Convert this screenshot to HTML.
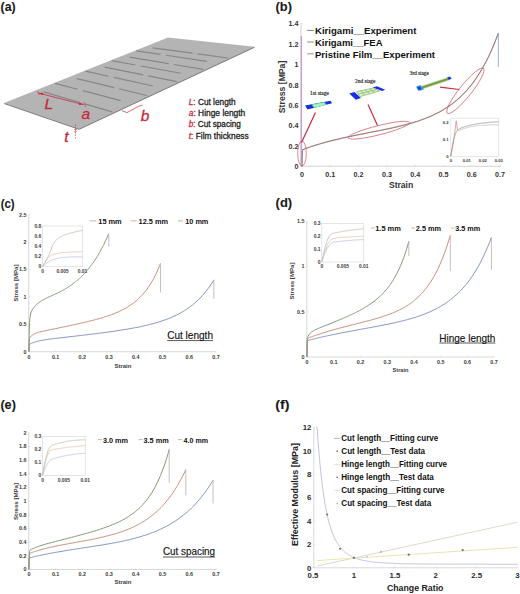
<!DOCTYPE html>
<html><head><meta charset="utf-8"><style>
html,body{margin:0;padding:0;background:#fff;}
body{width:520px;height:594px;overflow:hidden;}
svg{display:block;font-family:"Liberation Sans", sans-serif;}
</style></head><body>
<svg width="520" height="594" viewBox="0 0 520 594">
<rect width="520" height="594" fill="#fff"/>
<text x="0.60" y="10.60" font-size="12.7" fill="#1a1a1a" font-weight="bold" textLength="15.00" lengthAdjust="spacingAndGlyphs" stroke="#1a1a1a" stroke-width="0.1">(a)</text>
<polygon points="4.00,103.00 79.00,128.80 254.50,46.80 168.00,37.60" fill="#b4b4b4"/>
<polyline points="4.3,103.6 79.0,129.3 254.3,47.3" fill="none" stroke="#7c7c7c" stroke-width="1.1" stroke-linejoin="round"/>
<line x1="43.76" y1="91.94" x2="80.09" y2="102.51" stroke="#878787" stroke-width="1.2"/>
<line x1="84.73" y1="103.86" x2="112.17" y2="111.84" stroke="#878787" stroke-width="1.2"/>
<line x1="76.76" y1="78.56" x2="114.18" y2="87.57" stroke="#878787" stroke-width="1.2"/>
<line x1="118.95" y1="88.72" x2="147.21" y2="95.52" stroke="#878787" stroke-width="1.2"/>
<line x1="104.82" y1="67.19" x2="143.15" y2="74.87" stroke="#878787" stroke-width="1.2"/>
<line x1="148.04" y1="75.85" x2="177.00" y2="81.65" stroke="#878787" stroke-width="1.2"/>
<line x1="129.58" y1="57.16" x2="168.72" y2="63.67" stroke="#878787" stroke-width="1.2"/>
<line x1="173.71" y1="64.50" x2="203.28" y2="69.41" stroke="#878787" stroke-width="1.2"/>
<line x1="152.68" y1="47.79" x2="192.58" y2="53.21" stroke="#878787" stroke-width="1.2"/>
<line x1="197.67" y1="53.90" x2="227.81" y2="57.99" stroke="#878787" stroke-width="1.2"/>
<line x1="54.96" y1="83.30" x2="77.57" y2="89.27" stroke="#878787" stroke-width="1.2"/>
<line x1="82.83" y1="90.66" x2="120.75" y2="100.68" stroke="#878787" stroke-width="1.2"/>
<line x1="85.33" y1="71.17" x2="108.55" y2="76.25" stroke="#878787" stroke-width="1.2"/>
<line x1="113.95" y1="77.44" x2="152.90" y2="85.97" stroke="#878787" stroke-width="1.2"/>
<line x1="111.59" y1="60.67" x2="135.34" y2="64.99" stroke="#878787" stroke-width="1.2"/>
<line x1="140.87" y1="66.00" x2="180.70" y2="73.25" stroke="#878787" stroke-width="1.2"/>
<line x1="136.21" y1="50.83" x2="160.46" y2="54.44" stroke="#878787" stroke-width="1.2"/>
<line x1="166.10" y1="55.27" x2="206.77" y2="61.32" stroke="#878787" stroke-width="1.2"/>
<line x1="38.50" y1="93.10" x2="83.50" y2="104.60" stroke="#c8283c" stroke-width="0.8"/>
<polygon points="83.50,104.60 79.40,102.50 78.70,105.00" fill="#c8283c"/>
<polygon points="38.50,93.10 42.60,95.20 43.30,92.70" fill="#c8283c"/>
<line x1="37.60" y1="91.00" x2="39.20" y2="95.00" stroke="#c8283c" stroke-width="0.6"/>
<line x1="83.80" y1="102.20" x2="85.60" y2="107.00" stroke="#c8283c" stroke-width="0.6"/>
<text x="44.60" y="109.20" font-size="15.5" fill="#c8283c" font-style="italic" stroke="#c8283c" stroke-width="0.3">L</text>
<text x="81.50" y="119.20" font-size="15.5" fill="#c8283c" font-style="italic" stroke="#c8283c" stroke-width="0.3">a</text>
<polyline points="122.0,110.8 127.0,112.6 138.5,106.3 142.5,105.2" fill="none" stroke="#c8283c" stroke-width="0.7" stroke-linejoin="round"/>
<text x="140.80" y="120.60" font-size="15.5" fill="#c8283c" font-style="italic" stroke="#c8283c" stroke-width="0.3">b</text>
<line x1="75.50" y1="124.50" x2="75.50" y2="139.50" stroke="#c8283c" stroke-width="0.6" stroke-dasharray="1.5,1"/>
<line x1="74.00" y1="129.50" x2="77.00" y2="129.50" stroke="#c8283c" stroke-width="0.5"/>
<line x1="74.00" y1="131.50" x2="77.00" y2="131.50" stroke="#c8283c" stroke-width="0.5"/>
<text x="64.20" y="141.50" font-size="15.5" fill="#c8283c" font-style="italic" stroke="#c8283c" stroke-width="0.3">t</text>
<text x="188.7" y="104.7" font-size="8.8" fill="#222" stroke="#222" stroke-width="0.3" textLength="47.0" lengthAdjust="spacingAndGlyphs"><tspan fill="#c8283c" stroke="#c8283c" font-style="italic">L</tspan><tspan fill="#c8283c" stroke="#c8283c">:</tspan> Cut length</text>
<text x="188.7" y="116.2" font-size="8.8" fill="#222" stroke="#222" stroke-width="0.3" textLength="56.6" lengthAdjust="spacingAndGlyphs"><tspan fill="#c8283c" stroke="#c8283c" font-style="italic">a</tspan><tspan fill="#c8283c" stroke="#c8283c">:</tspan> Hinge length</text>
<text x="188.7" y="127.0" font-size="8.8" fill="#222" stroke="#222" stroke-width="0.3" textLength="52.2" lengthAdjust="spacingAndGlyphs"><tspan fill="#c8283c" stroke="#c8283c" font-style="italic">b</tspan><tspan fill="#c8283c" stroke="#c8283c">:</tspan> Cut spacing</text>
<text x="188.7" y="138.5" font-size="8.8" fill="#222" stroke="#222" stroke-width="0.3" textLength="60.0" lengthAdjust="spacingAndGlyphs"><tspan fill="#c8283c" stroke="#c8283c" font-style="italic">t</tspan><tspan fill="#c8283c" stroke="#c8283c">:</tspan> Film thickness</text>
<text x="275.60" y="10.90" font-size="12.7" fill="#1a1a1a" font-weight="bold" textLength="16.40" lengthAdjust="spacingAndGlyphs" stroke="#1a1a1a" stroke-width="0.1">(b)</text>
<line x1="301.00" y1="23.50" x2="301.00" y2="166.30" stroke="#c8c8c8" stroke-width="0.8"/>
<line x1="301.00" y1="166.30" x2="501.00" y2="166.30" stroke="#c8c8c8" stroke-width="0.8"/>
<text x="298.60" y="169.10" font-size="7.2" fill="#333" font-weight="bold" text-anchor="end">0</text>
<line x1="301.00" y1="166.50" x2="302.50" y2="166.50" stroke="#c8c8c8" stroke-width="0.6"/>
<text x="298.60" y="148.70" font-size="7.2" fill="#333" font-weight="bold" text-anchor="end">0.2</text>
<line x1="301.00" y1="146.10" x2="302.50" y2="146.10" stroke="#c8c8c8" stroke-width="0.6"/>
<text x="298.60" y="128.30" font-size="7.2" fill="#333" font-weight="bold" text-anchor="end">0.4</text>
<line x1="301.00" y1="125.70" x2="302.50" y2="125.70" stroke="#c8c8c8" stroke-width="0.6"/>
<text x="298.60" y="107.90" font-size="7.2" fill="#333" font-weight="bold" text-anchor="end">0.6</text>
<line x1="301.00" y1="105.30" x2="302.50" y2="105.30" stroke="#c8c8c8" stroke-width="0.6"/>
<text x="298.60" y="87.50" font-size="7.2" fill="#333" font-weight="bold" text-anchor="end">0.8</text>
<line x1="301.00" y1="84.90" x2="302.50" y2="84.90" stroke="#c8c8c8" stroke-width="0.6"/>
<text x="298.60" y="67.10" font-size="7.2" fill="#333" font-weight="bold" text-anchor="end">1</text>
<line x1="301.00" y1="64.50" x2="302.50" y2="64.50" stroke="#c8c8c8" stroke-width="0.6"/>
<text x="298.60" y="46.70" font-size="7.2" fill="#333" font-weight="bold" text-anchor="end">1.2</text>
<line x1="301.00" y1="44.10" x2="302.50" y2="44.10" stroke="#c8c8c8" stroke-width="0.6"/>
<text x="298.60" y="26.30" font-size="7.2" fill="#333" font-weight="bold" text-anchor="end">1.4</text>
<line x1="301.00" y1="23.70" x2="302.50" y2="23.70" stroke="#c8c8c8" stroke-width="0.6"/>
<text x="302.00" y="177.00" font-size="7.2" fill="#333" font-weight="bold" text-anchor="middle">0</text>
<line x1="302.00" y1="166.30" x2="302.00" y2="164.80" stroke="#c8c8c8" stroke-width="0.6"/>
<text x="330.30" y="177.00" font-size="7.2" fill="#333" font-weight="bold" text-anchor="middle">0.1</text>
<line x1="330.30" y1="166.30" x2="330.30" y2="164.80" stroke="#c8c8c8" stroke-width="0.6"/>
<text x="358.60" y="177.00" font-size="7.2" fill="#333" font-weight="bold" text-anchor="middle">0.2</text>
<line x1="358.60" y1="166.30" x2="358.60" y2="164.80" stroke="#c8c8c8" stroke-width="0.6"/>
<text x="386.90" y="177.00" font-size="7.2" fill="#333" font-weight="bold" text-anchor="middle">0.3</text>
<line x1="386.90" y1="166.30" x2="386.90" y2="164.80" stroke="#c8c8c8" stroke-width="0.6"/>
<text x="415.20" y="177.00" font-size="7.2" fill="#333" font-weight="bold" text-anchor="middle">0.4</text>
<line x1="415.20" y1="166.30" x2="415.20" y2="164.80" stroke="#c8c8c8" stroke-width="0.6"/>
<text x="443.50" y="177.00" font-size="7.2" fill="#333" font-weight="bold" text-anchor="middle">0.5</text>
<line x1="443.50" y1="166.30" x2="443.50" y2="164.80" stroke="#c8c8c8" stroke-width="0.6"/>
<text x="471.80" y="177.00" font-size="7.2" fill="#333" font-weight="bold" text-anchor="middle">0.6</text>
<line x1="471.80" y1="166.30" x2="471.80" y2="164.80" stroke="#c8c8c8" stroke-width="0.6"/>
<text x="500.10" y="177.00" font-size="7.2" fill="#333" font-weight="bold" text-anchor="middle">0.7</text>
<line x1="500.10" y1="166.30" x2="500.10" y2="164.80" stroke="#c8c8c8" stroke-width="0.6"/>
<text x="401.10" y="187.60" font-size="8.7" fill="#333" font-weight="bold" text-anchor="middle" textLength="24.30" lengthAdjust="spacingAndGlyphs">Strain</text>
<text x="284.60" y="86.90" font-size="8.7" fill="#333" font-weight="bold" text-anchor="middle" textLength="52.50" lengthAdjust="spacingAndGlyphs" transform="rotate(-90 284.60 86.90)">Stress [MPa]</text>
<line x1="301.30" y1="36.00" x2="301.30" y2="166.30" stroke="#c894d8" stroke-width="1.2"/>
<polyline points="302.0,166.5 302.1,157.3 302.3,153.1 302.4,151.2 302.6,150.3 302.7,149.9 302.8,149.6 303.0,149.5 303.1,149.4 304.0,149.1 304.8,148.8 305.7,148.5 306.5,148.1 307.4,147.9 308.2,147.6 309.1,147.3 309.9,147.0 310.8,146.7 311.6,146.4 312.5,146.1 313.3,145.9 315.4,145.2 317.5,144.6 319.6,144.0 321.6,143.4 323.7,142.8 325.8,142.2 327.9,141.6 330.0,141.1 332.0,140.6 334.1,140.1 336.2,139.6 338.3,139.1 340.4,138.6 342.4,138.1 344.5,137.6 346.6,137.2 348.7,136.7 350.8,136.3 352.8,135.9 354.9,135.4 357.0,135.0 359.1,134.6 361.2,134.2 363.2,133.8 365.3,133.3 367.4,132.9 369.5,132.5 371.5,132.1 373.6,131.7 375.7,131.3 377.8,130.9 379.9,130.5 381.9,130.1 384.0,129.6 386.1,129.2 388.2,128.8 390.3,128.3 392.3,127.9 394.4,127.4 396.5,126.9 398.6,126.4 400.7,125.9 402.7,125.4 404.8,124.9 406.9,124.3 409.0,123.8 411.1,123.2 413.1,122.6 415.2,121.9 417.3,121.3 419.4,120.6 421.5,119.8 423.5,119.1 425.6,118.3 427.7,117.5 429.8,116.6 431.9,115.7 433.9,114.7 436.0,113.7 438.1,112.7 440.2,111.5 442.3,110.4 444.3,109.1 446.4,107.8 448.5,106.4 450.6,105.0 452.7,103.4 454.7,101.8 456.8,100.1 458.9,98.2 461.0,96.3 463.0,94.3 465.1,92.1 467.2,89.8 469.3,87.4 471.4,84.8 473.4,82.1 475.5,79.2 477.6,76.1 479.7,72.9 481.8,69.4 483.8,65.8 485.9,61.9 488.0,57.8 490.1,53.4 492.2,48.7 494.2,43.8 496.3,38.6 498.4,33.0" fill="none" stroke="#e4b0b0" stroke-width="1.2" stroke-linejoin="round"/>
<polyline points="302.0,166.5 302.1,157.3 302.3,153.1 302.4,151.2 302.6,150.3 302.7,149.9 302.8,149.6 303.0,149.5 303.1,149.4 304.0,149.1 304.8,148.8 305.7,148.5 306.5,148.1 307.4,147.9 308.2,147.6 309.1,147.3 309.9,147.0 310.8,146.7 311.6,146.4 312.5,146.1 313.3,145.9 315.4,145.2 317.5,144.6 319.6,144.0 321.6,143.4 323.7,142.8 325.8,142.2 327.9,141.6 330.0,141.1 332.0,140.6 334.1,140.1 336.2,139.6 338.3,139.1 340.4,138.6 342.4,138.1 344.5,137.6 346.6,137.2 348.7,136.7 350.8,136.3 352.8,135.9 354.9,135.4 357.0,135.0 359.1,134.6 361.2,134.2 363.2,133.8 365.3,133.3 367.4,132.9 369.5,132.5 371.5,132.1 373.6,131.7 375.7,131.3 377.8,130.9 379.9,130.5 381.9,130.1 384.0,129.6 386.1,129.2 388.2,128.8 390.3,128.3 392.3,127.9 394.4,127.4 396.5,126.9 398.6,126.4 400.7,125.9 402.7,125.4 404.8,124.9 406.9,124.3 409.0,123.8 411.1,123.2 413.1,122.6 415.2,121.9 417.3,121.3 419.4,120.6 421.5,119.8 423.5,119.1 425.6,118.3 427.7,117.5 429.8,116.6 431.9,115.7 433.9,114.7 436.0,113.7 438.1,112.7 440.2,111.5 442.3,110.4 444.3,109.1 446.4,107.8 448.5,106.4 450.6,105.0 452.7,103.4 454.7,101.8 456.8,100.1 458.9,98.2 461.0,96.3 463.0,94.3 465.1,92.1 467.2,89.8 469.3,87.4 471.4,84.8 473.4,82.1 475.5,79.2 477.6,76.1 479.7,72.9 481.8,69.4 483.8,65.8 485.9,61.9 488.0,57.8 490.1,53.4 492.2,48.7 494.2,43.8 496.3,38.6 498.4,33.0" fill="none" stroke="#6e6666" stroke-width="0.7" stroke-linejoin="round"/>
<line x1="498.40" y1="32.98" x2="498.40" y2="67.05" stroke="#88aee0" stroke-width="0.9"/>
<ellipse cx="302" cy="153.5" rx="4.3" ry="12.5" fill="none" stroke="#d05a64" stroke-width="0.7"/>
<ellipse cx="378.8" cy="130.2" rx="31.7" ry="4.6" fill="none" stroke="#d05a64" stroke-width="0.7" transform="rotate(-14.1 378.8 130.2)"/>
<ellipse cx="465.4" cy="90.8" rx="28.8" ry="6.0" fill="none" stroke="#d05a64" stroke-width="0.7" transform="rotate(-51.3 465.4 90.8)"/>
<line x1="315.50" y1="112.50" x2="301.50" y2="142.50" stroke="#c82c40" stroke-width="1.2"/>
<line x1="368.00" y1="104.50" x2="377.50" y2="125.50" stroke="#c82c40" stroke-width="1.2"/>
<line x1="440.00" y1="87.20" x2="459.20" y2="89.50" stroke="#c82c40" stroke-width="1.2"/>
<polygon points="305.00,105.60 330.50,100.80 332.00,103.30 307.50,109.40" fill="#1530d8"/>
<polygon points="311.50,104.40 324.50,101.90 326.50,104.80 314.00,108.10" fill="#7ee0a8"/>
<polygon points="313.00,104.90 323.00,103.00 324.50,104.90 315.00,106.90" fill="#a8f0c0"/>
<text x="319.40" y="94.90" font-size="5.6" fill="#2a2a2a" text-anchor="middle" textLength="18.80" lengthAdjust="spacingAndGlyphs" font-family="Liberation Serif" stroke="#2a2a2a" stroke-width="0.2">1st stage</text>
<polygon points="349.30,93.60 354.50,91.90 361.00,97.90 355.80,99.70" fill="#1a2ee0"/>
<polygon points="372.70,87.50 377.00,86.20 385.20,89.70 382.20,91.00" fill="#1a2ee0"/>
<polygon points="356.50,91.60 373.50,88.00 379.60,91.00 360.10,96.60" fill="#d8f0c8"/>
<line x1="356.50" y1="91.60" x2="360.10" y2="96.60" stroke="#70a860" stroke-width="0.6"/>
<line x1="360.75" y1="90.70" x2="364.98" y2="95.20" stroke="#70a860" stroke-width="0.6"/>
<line x1="365.00" y1="89.80" x2="369.85" y2="93.80" stroke="#70a860" stroke-width="0.6"/>
<line x1="369.25" y1="88.90" x2="374.73" y2="92.40" stroke="#70a860" stroke-width="0.6"/>
<line x1="373.50" y1="88.00" x2="379.60" y2="91.00" stroke="#70a860" stroke-width="0.6"/>
<line x1="356.50" y1="91.60" x2="373.50" y2="88.00" stroke="#70a860" stroke-width="0.6"/>
<line x1="358.30" y1="94.10" x2="376.50" y2="89.50" stroke="#70a860" stroke-width="0.6"/>
<line x1="360.10" y1="96.60" x2="379.60" y2="91.00" stroke="#70a860" stroke-width="0.6"/>
<text x="365.20" y="82.90" font-size="5.6" fill="#2a2a2a" text-anchor="middle" textLength="20.30" lengthAdjust="spacingAndGlyphs" font-family="Liberation Serif" stroke="#2a2a2a" stroke-width="0.2">2nd stage</text>
<line x1="420.00" y1="88.20" x2="449.00" y2="78.60" stroke="#b8e0a0" stroke-width="3.6"/>
<line x1="420.00" y1="88.20" x2="449.00" y2="78.60" stroke="#7e9448" stroke-width="2.0"/>
<polygon points="416.10,86.40 420.50,85.10 424.00,89.60 418.50,90.90" fill="#3aa0e0"/>
<polygon points="416.80,87.40 419.80,86.60 421.50,89.20 418.80,90.00" fill="#1a40d0"/>
<polygon points="447.30,77.30 450.20,76.60 451.60,79.10 448.60,79.80" fill="#1a40d0"/>
<text x="419.30" y="75.40" font-size="5.6" fill="#2a2a2a" text-anchor="middle" textLength="19.00" lengthAdjust="spacingAndGlyphs" font-family="Liberation Serif" stroke="#2a2a2a" stroke-width="0.2">3rd stage</text>
<line x1="307.20" y1="30.40" x2="313.80" y2="30.40" stroke="#707070" stroke-width="0.9"/>
<text x="315.00" y="34.20" font-size="8.5" fill="#111" font-weight="bold" textLength="101.40" lengthAdjust="spacingAndGlyphs">Kirigami__Experiment</text>
<line x1="307.20" y1="42.00" x2="313.80" y2="42.00" stroke="#a07070" stroke-width="0.9"/>
<text x="315.00" y="45.80" font-size="8.5" fill="#111" font-weight="bold" textLength="67.50" lengthAdjust="spacingAndGlyphs">Kirigami__FEA</text>
<line x1="307.20" y1="53.80" x2="313.80" y2="53.80" stroke="#9080b0" stroke-width="0.9"/>
<text x="315.00" y="57.60" font-size="8.5" fill="#111" font-weight="bold" textLength="120.00" lengthAdjust="spacingAndGlyphs">Pristine Film__Experiment</text>
<rect x="450.8" y="118.2" width="48" height="38.2" fill="#fff" stroke="#d8d8d8" stroke-width="0.6"/>
<text x="448.50" y="157.90" font-size="4.2" fill="#333" font-weight="bold" text-anchor="end">0</text>
<text x="448.50" y="140.90" font-size="4.2" fill="#333" font-weight="bold" text-anchor="end">0.1</text>
<text x="448.50" y="123.90" font-size="4.2" fill="#333" font-weight="bold" text-anchor="end">0.2</text>
<text x="450.80" y="162.00" font-size="4.2" fill="#333" font-weight="bold" text-anchor="middle">0</text>
<text x="466.80" y="162.00" font-size="4.2" fill="#333" font-weight="bold" text-anchor="middle">0.01</text>
<text x="482.80" y="162.00" font-size="4.2" fill="#333" font-weight="bold" text-anchor="middle">0.02</text>
<text x="498.80" y="162.00" font-size="4.2" fill="#333" font-weight="bold" text-anchor="middle">0.03</text>
<polyline points="450.8,156.4 451.1,154.4 451.4,152.5 451.7,150.6 452.0,148.9 452.3,147.2 452.6,145.6 452.9,144.0 453.2,142.6 453.5,141.2 453.7,139.9 454.0,138.7 454.3,137.5 454.6,136.5 454.9,135.5 455.2,134.6 455.5,133.8 455.8,133.0 456.1,132.3 456.4,131.8 456.5,131.5 456.7,131.3 456.8,131.0 457.0,130.8 457.1,130.6 457.3,130.5 457.4,130.3 457.5,130.2 457.7,130.1 457.8,130.0 458.0,129.9 458.1,129.8 458.2,129.7 458.4,129.6 458.5,129.5 458.7,129.4 458.8,129.3 459.0,129.2 459.1,129.1 459.2,129.0 459.4,129.0 459.5,128.9 459.7,128.8 459.8,128.7 459.9,128.6 460.1,128.6 460.2,128.5 460.4,128.4 460.5,128.3 460.7,128.3 460.8,128.2 460.9,128.1 461.1,128.1 461.2,128.0 461.4,127.9 461.5,127.9 461.6,127.8 461.8,127.8 461.9,127.7 462.1,127.7 462.2,127.6 462.4,127.5 462.5,127.5 462.6,127.4 462.8,127.4 462.9,127.3 463.1,127.3 463.2,127.2 463.3,127.2 463.5,127.1 463.6,127.1 463.8,127.0 463.9,127.0 464.1,126.9 464.2,126.9 464.3,126.9 464.5,126.8 464.6,126.8 464.8,126.7 464.9,126.7 465.1,126.6 465.2,126.6 465.3,126.6 465.5,126.5 465.6,126.5 465.8,126.4 465.9,126.4 466.0,126.4 466.2,126.3 466.3,126.3 466.5,126.2 466.6,126.2 466.8,126.2 466.9,126.1 467.0,126.1 467.2,126.0 467.3,126.0 467.5,126.0 467.6,125.9 467.7,125.9 467.9,125.8 468.0,125.8 468.2,125.8 468.3,125.7 468.5,125.7 468.6,125.7 468.7,125.6 468.9,125.6 469.0,125.5 469.2,125.5 469.3,125.5 469.4,125.4 469.6,125.4 469.7,125.4 469.9,125.3 470.0,125.3 470.2,125.3 470.3,125.2 470.4,125.2 470.6,125.2 470.7,125.1 470.9,125.1 471.0,125.1 471.1,125.0 471.3,125.0 471.4,125.0 471.6,124.9 471.7,124.9 471.9,124.9 472.0,124.9 472.1,124.8 472.3,124.8 472.4,124.8 472.6,124.7 472.7,124.7 472.8,124.7 473.0,124.6 473.1,124.6 473.3,124.6 473.4,124.6 473.6,124.5 473.7,124.5 473.8,124.5 474.0,124.4 474.1,124.4 474.3,124.4 474.4,124.4 474.6,124.3 474.7,124.3 474.8,124.3 475.0,124.3 475.1,124.2 475.3,124.2 475.4,124.2 475.5,124.2 475.7,124.1 475.8,124.1 476.0,124.1 476.1,124.1 476.3,124.0 476.4,124.0 476.5,124.0 476.7,124.0 476.8,123.9 477.0,123.9 477.1,123.9 477.2,123.9 477.4,123.9 477.5,123.8 477.7,123.8 477.8,123.8 478.0,123.8 478.1,123.7 478.2,123.7 478.4,123.7 478.5,123.7 478.7,123.7 478.8,123.6 478.9,123.6 479.1,123.6 479.2,123.6 479.4,123.6 479.5,123.5 479.7,123.5 479.8,123.5 479.9,123.5 480.1,123.5 480.2,123.4 480.4,123.4 480.5,123.4 480.6,123.4 480.8,123.4 480.9,123.4 481.1,123.3 481.2,123.3 481.4,123.3 481.5,123.3 481.6,123.3 481.8,123.2 481.9,123.2 482.1,123.2 482.2,123.2 482.4,123.2 482.5,123.2 482.6,123.1 482.8,123.1 482.9,123.1 483.1,123.1 483.2,123.1 483.3,123.0 483.5,123.0 483.6,123.0 483.8,123.0 483.9,123.0 484.1,123.0 484.2,122.9 484.3,122.9 484.5,122.9 484.6,122.9 484.8,122.9 484.9,122.9 485.0,122.8 485.2,122.8 485.3,122.8 485.5,122.8 485.6,122.8 485.8,122.8 485.9,122.7 486.0,122.7 486.2,122.7 486.3,122.7 486.5,122.7 486.6,122.7 486.7,122.6 486.9,122.6 487.0,122.6 487.2,122.6 487.3,122.6 487.5,122.6 487.6,122.6 487.7,122.5 487.9,122.5 488.0,122.5 488.2,122.5 488.3,122.5 488.4,122.5 488.6,122.4 488.7,122.4 488.9,122.4 489.0,122.4 489.2,122.4 489.3,122.4 489.4,122.4 489.6,122.3 489.7,122.3 489.9,122.3 490.0,122.3 490.1,122.3 490.3,122.3 490.4,122.3 490.6,122.3 490.7,122.2 490.9,122.2 491.0,122.2 491.1,122.2 491.3,122.2 491.4,122.2 491.6,122.2 491.7,122.1 491.9,122.1 492.0,122.1 492.1,122.1 492.3,122.1 492.4,122.1 492.6,122.1 492.7,122.1 492.8,122.1 493.0,122.0 493.1,122.0 493.3,122.0 493.4,122.0 493.6,122.0 493.7,122.0 493.8,122.0 494.0,122.0 494.1,122.0 494.3,121.9 494.4,121.9 494.5,121.9 494.7,121.9 494.8,121.9 495.0,121.9 495.1,121.9 495.3,121.9 495.4,121.9 495.5,121.9 495.7,121.9 495.8,121.9 496.0,121.8 496.1,121.8 496.2,121.8 496.4,121.8 496.5,121.8 496.7,121.8 496.8,121.8 497.0,121.8 497.1,121.8 497.2,121.8 497.4,121.8 497.5,121.8 497.7,121.8 497.8,121.8 497.9,121.7 498.1,121.7 498.2,121.7 498.4,121.7 498.5,121.7 498.7,121.7 498.8,121.7" fill="none" stroke="#8a8a8a" stroke-width="0.7" stroke-linejoin="round"/>
<polyline points="457.5,130.9 458.0,130.7 458.5,130.5 459.0,130.3 459.5,130.1 460.0,130.0 460.5,129.8 460.9,129.6 461.4,129.4 461.9,129.3 462.4,129.1 462.9,128.9 463.4,128.8 463.9,128.6 464.4,128.5 464.8,128.3 465.3,128.2 465.8,128.1 466.3,128.0 466.8,127.8 466.9,127.8 467.0,127.8 467.1,127.8 467.2,127.7 467.3,127.7 467.4,127.7 467.5,127.7 467.7,127.6 467.8,127.6 467.9,127.6 468.0,127.6 468.1,127.5 468.2,127.5 468.3,127.5 468.4,127.5 468.5,127.4 468.6,127.4 468.7,127.4 468.8,127.4 468.9,127.3 469.0,127.3 469.2,127.3 469.3,127.3 469.4,127.2 469.5,127.2 469.6,127.2 469.7,127.2 469.8,127.2 469.9,127.1 470.0,127.1 470.1,127.1 470.2,127.1 470.3,127.0 470.4,127.0 470.5,127.0 470.7,127.0 470.8,126.9 470.9,126.9 471.0,126.9 471.1,126.9 471.2,126.8 471.3,126.8 471.4,126.8 471.5,126.8 471.6,126.8 471.7,126.7 471.8,126.7 471.9,126.7 472.0,126.7 472.2,126.6 472.3,126.6 472.4,126.6 472.5,126.6 472.6,126.6 472.7,126.5 472.8,126.5 472.9,126.5 473.0,126.5 473.1,126.5 473.2,126.4 473.3,126.4 473.4,126.4 473.5,126.4 473.6,126.4 473.8,126.3 473.9,126.3 474.0,126.3 474.1,126.3 474.2,126.3 474.3,126.2 474.4,126.2 474.5,126.2 474.6,126.2 474.7,126.2 474.8,126.1 474.9,126.1 475.0,126.1 475.1,126.1 475.3,126.1 475.4,126.0 475.5,126.0 475.6,126.0 475.7,126.0 475.8,126.0 475.9,126.0 476.0,125.9 476.1,125.9 476.2,125.9 476.3,125.9 476.4,125.9 476.5,125.9 476.6,125.9 476.8,125.8 476.9,125.8 477.0,125.8 477.1,125.8 477.2,125.8 477.3,125.8 477.4,125.8 477.5,125.7 477.6,125.7 477.7,125.7 477.8,125.7 477.9,125.7 478.0,125.7 478.1,125.7 478.3,125.6 478.4,125.6 478.5,125.6 478.6,125.6 478.7,125.6 478.8,125.6 478.9,125.6 479.0,125.6 479.1,125.6 479.2,125.6 479.3,125.5 479.4,125.5 479.5,125.5 479.6,125.5 479.7,125.5 479.9,125.5 480.0,125.5 480.1,125.5 480.2,125.5 480.3,125.5 480.4,125.5 480.5,125.5 480.6,125.4 480.7,125.4 480.8,125.4 480.9,125.4 481.0,125.4 481.1,125.4 481.2,125.4 481.4,125.4 481.5,125.4 481.6,125.4 481.7,125.4 481.8,125.4 481.9,125.4 482.0,125.4 482.1,125.4 482.2,125.3 482.3,125.3 482.4,125.3 482.5,125.3 482.6,125.3 482.7,125.3 482.9,125.3 483.0,125.3 483.1,125.3 483.2,125.3 483.3,125.3 483.4,125.3 483.5,125.3 483.6,125.3 483.7,125.3 483.8,125.3 483.9,125.2 484.0,125.2 484.1,125.2 484.2,125.2 484.4,125.2 484.5,125.2 484.6,125.2 484.7,125.2 484.8,125.2 484.9,125.2 485.0,125.2 485.1,125.2 485.2,125.2 485.3,125.2 485.4,125.2 485.5,125.2 485.6,125.2 485.7,125.2 485.9,125.1 486.0,125.1 486.1,125.1 486.2,125.1 486.3,125.1 486.4,125.1 486.5,125.1 486.6,125.1 486.7,125.1 486.8,125.1 486.9,125.1 487.0,125.1 487.1,125.1 487.2,125.1 487.3,125.1 487.5,125.1 487.6,125.1 487.7,125.1 487.8,125.1 487.9,125.0 488.0,125.0 488.1,125.0 488.2,125.0 488.3,125.0 488.4,125.0 488.5,125.0 488.6,125.0 488.7,125.0 488.8,125.0 489.0,125.0 489.1,125.0 489.2,125.0 489.3,125.0 489.4,125.0 489.5,125.0 489.6,125.0 489.7,125.0 489.8,125.0 489.9,125.0 490.0,125.0 490.1,125.0 490.2,125.0 490.3,124.9 490.5,124.9 490.6,124.9 490.7,124.9 490.8,124.9 490.9,124.9 491.0,124.9 491.1,124.9 491.2,124.9 491.3,124.9 491.4,124.9 491.5,124.9 491.6,124.9 491.7,124.9 491.8,124.9 492.0,124.9 492.1,124.9 492.2,124.9 492.3,124.9 492.4,124.9 492.5,124.9 492.6,124.9 492.7,124.9 492.8,124.9 492.9,124.9 493.0,124.9 493.1,124.9 493.2,124.9 493.3,124.9 493.4,124.8 493.6,124.8 493.7,124.8 493.8,124.8 493.9,124.8 494.0,124.8 494.1,124.8 494.2,124.8 494.3,124.8 494.4,124.8 494.5,124.8 494.6,124.8 494.7,124.8 494.8,124.8 494.9,124.8 495.1,124.8 495.2,124.8 495.3,124.8 495.4,124.8 495.5,124.8 495.6,124.8 495.7,124.8 495.8,124.8 495.9,124.8 496.0,124.8 496.1,124.8 496.2,124.8 496.3,124.8 496.4,124.8 496.6,124.8 496.7,124.8 496.8,124.8 496.9,124.8 497.0,124.8 497.1,124.8 497.2,124.8 497.3,124.8 497.4,124.8 497.5,124.8 497.6,124.8 497.7,124.8 497.8,124.8 497.9,124.8 498.1,124.8 498.2,124.8 498.3,124.8 498.4,124.8 498.5,124.8 498.6,124.8 498.7,124.8 498.8,124.8" fill="none" stroke="#b0b0b0" stroke-width="0.6" stroke-linejoin="round"/>
<polyline points="450.8,156.4 454.3,136.0 456.2,120.7 457.5,130.1" fill="none" stroke="#d08080" stroke-width="0.7" stroke-linejoin="round"/>
<text x="0.70" y="207.50" font-size="12.7" fill="#1a1a1a" font-weight="bold" textLength="14.00" lengthAdjust="spacingAndGlyphs" stroke="#1a1a1a" stroke-width="0.1">(c)</text>
<line x1="28.70" y1="214.20" x2="28.70" y2="351.70" stroke="#c8c8c8" stroke-width="0.7"/>
<line x1="28.70" y1="351.70" x2="216.01" y2="351.70" stroke="#c8c8c8" stroke-width="0.7"/>
<text x="26.50" y="353.60" font-size="5.4" fill="#3a3a3a" font-weight="bold" text-anchor="end">0</text>
<line x1="28.90" y1="351.70" x2="30.10" y2="351.70" stroke="#c8c8c8" stroke-width="0.5"/>
<text x="26.50" y="326.20" font-size="5.4" fill="#3a3a3a" font-weight="bold" text-anchor="end">0.5</text>
<line x1="28.90" y1="324.30" x2="30.10" y2="324.30" stroke="#c8c8c8" stroke-width="0.5"/>
<text x="26.50" y="298.80" font-size="5.4" fill="#3a3a3a" font-weight="bold" text-anchor="end">1</text>
<line x1="28.90" y1="296.90" x2="30.10" y2="296.90" stroke="#c8c8c8" stroke-width="0.5"/>
<text x="26.50" y="271.40" font-size="5.4" fill="#3a3a3a" font-weight="bold" text-anchor="end">1.5</text>
<line x1="28.90" y1="269.50" x2="30.10" y2="269.50" stroke="#c8c8c8" stroke-width="0.5"/>
<text x="26.50" y="244.00" font-size="5.4" fill="#3a3a3a" font-weight="bold" text-anchor="end">2</text>
<line x1="28.90" y1="242.10" x2="30.10" y2="242.10" stroke="#c8c8c8" stroke-width="0.5"/>
<text x="26.50" y="216.60" font-size="5.4" fill="#3a3a3a" font-weight="bold" text-anchor="end">2.5</text>
<line x1="28.90" y1="214.70" x2="30.10" y2="214.70" stroke="#c8c8c8" stroke-width="0.5"/>
<text x="28.90" y="358.50" font-size="5.4" fill="#3a3a3a" font-weight="bold" text-anchor="middle">0</text>
<line x1="28.90" y1="351.70" x2="28.90" y2="350.50" stroke="#c8c8c8" stroke-width="0.5"/>
<text x="55.63" y="358.50" font-size="5.4" fill="#3a3a3a" font-weight="bold" text-anchor="middle">0.1</text>
<line x1="55.63" y1="351.70" x2="55.63" y2="350.50" stroke="#c8c8c8" stroke-width="0.5"/>
<text x="82.36" y="358.50" font-size="5.4" fill="#3a3a3a" font-weight="bold" text-anchor="middle">0.2</text>
<line x1="82.36" y1="351.70" x2="82.36" y2="350.50" stroke="#c8c8c8" stroke-width="0.5"/>
<text x="109.09" y="358.50" font-size="5.4" fill="#3a3a3a" font-weight="bold" text-anchor="middle">0.3</text>
<line x1="109.09" y1="351.70" x2="109.09" y2="350.50" stroke="#c8c8c8" stroke-width="0.5"/>
<text x="135.82" y="358.50" font-size="5.4" fill="#3a3a3a" font-weight="bold" text-anchor="middle">0.4</text>
<line x1="135.82" y1="351.70" x2="135.82" y2="350.50" stroke="#c8c8c8" stroke-width="0.5"/>
<text x="162.55" y="358.50" font-size="5.4" fill="#3a3a3a" font-weight="bold" text-anchor="middle">0.5</text>
<line x1="162.55" y1="351.70" x2="162.55" y2="350.50" stroke="#c8c8c8" stroke-width="0.5"/>
<text x="189.28" y="358.50" font-size="5.4" fill="#3a3a3a" font-weight="bold" text-anchor="middle">0.6</text>
<line x1="189.28" y1="351.70" x2="189.28" y2="350.50" stroke="#c8c8c8" stroke-width="0.5"/>
<text x="216.01" y="358.50" font-size="5.4" fill="#3a3a3a" font-weight="bold" text-anchor="middle">0.7</text>
<line x1="216.01" y1="351.70" x2="216.01" y2="350.50" stroke="#c8c8c8" stroke-width="0.5"/>
<polyline points="28.9,351.7 29.0,348.5 29.2,346.7 29.3,345.7 29.4,345.1 29.6,344.7 29.7,344.5 29.8,344.3 30.0,344.2 30.8,343.7 31.6,343.3 32.4,343.0 33.2,342.7 34.0,342.4 34.8,342.1 35.6,341.8 36.4,341.6 37.2,341.4 38.0,341.2 38.8,341.0 39.6,340.8 41.6,340.4 43.5,340.1 45.5,339.7 47.4,339.4 49.4,339.2 51.3,338.9 53.3,338.7 55.3,338.4 57.2,338.2 59.2,338.0 61.1,337.7 63.1,337.5 65.0,337.3 67.0,337.1 69.0,336.8 70.9,336.6 72.9,336.4 74.8,336.2 76.8,335.9 78.8,335.7 80.7,335.5 82.7,335.2 84.6,335.0 86.6,334.8 88.5,334.5 90.5,334.3 92.5,334.1 94.4,333.8 96.4,333.6 98.3,333.3 100.3,333.1 102.3,332.8 104.2,332.6 106.2,332.3 108.1,332.0 110.1,331.8 112.0,331.5 114.0,331.2 116.0,330.9 117.9,330.6 119.9,330.3 121.8,330.0 123.8,329.7 125.8,329.4 127.7,329.1 129.7,328.7 131.6,328.4 133.6,328.0 135.5,327.6 137.5,327.3 139.5,326.9 141.4,326.4 143.4,326.0 145.3,325.6 147.3,325.1 149.3,324.6 151.2,324.1 153.2,323.6 155.1,323.1 157.1,322.5 159.0,321.9 161.0,321.3 163.0,320.6 164.9,319.9 166.9,319.2 168.8,318.5 170.8,317.7 172.7,316.8 174.7,315.9 176.7,315.0 178.6,314.0 180.6,312.9 182.5,311.8 184.5,310.6 186.5,309.3 188.4,308.0 190.4,306.5 192.3,305.0 194.3,303.4 196.2,301.7 198.2,299.9 200.2,297.9 202.1,295.8 204.1,293.6 206.0,291.2 208.0,288.7 210.0,286.0 211.9,283.1 213.9,280.0" fill="none" stroke="#8796c0" stroke-width="1.0" stroke-linejoin="round"/>
<polyline points="28.9,351.7 29.0,346.1 29.2,342.8 29.3,340.7 29.4,339.5 29.6,338.7 29.7,338.1 29.8,337.7 30.0,337.4 30.8,336.4 31.6,335.7 32.4,335.1 33.2,334.6 34.0,334.1 34.8,333.7 35.6,333.4 36.4,333.0 37.2,332.8 38.0,332.5 38.8,332.3 39.6,332.0 41.0,331.7 42.3,331.4 43.7,331.1 45.0,330.8 46.4,330.5 47.7,330.2 49.1,329.9 50.5,329.6 51.8,329.4 53.2,329.1 54.5,328.8 55.9,328.5 57.3,328.3 58.6,328.0 60.0,327.7 61.3,327.4 62.7,327.1 64.1,326.9 65.4,326.6 66.8,326.3 68.1,326.0 69.5,325.7 70.8,325.4 72.2,325.1 73.6,324.8 74.9,324.6 76.3,324.3 77.6,324.0 79.0,323.6 80.4,323.3 81.7,323.0 83.1,322.7 84.4,322.4 85.8,322.1 87.2,321.8 88.5,321.4 89.9,321.1 91.2,320.7 92.6,320.4 94.0,320.0 95.3,319.7 96.7,319.3 98.0,318.9 99.4,318.5 100.7,318.2 102.1,317.8 103.5,317.3 104.8,316.9 106.2,316.5 107.5,316.0 108.9,315.6 110.3,315.1 111.6,314.6 113.0,314.1 114.3,313.5 115.7,313.0 117.1,312.4 118.4,311.8 119.8,311.2 121.1,310.5 122.5,309.8 123.9,309.1 125.2,308.4 126.6,307.6 127.9,306.8 129.3,305.9 130.6,305.0 132.0,304.1 133.4,303.1 134.7,302.0 136.1,300.9 137.4,299.7 138.8,298.4 140.2,297.1 141.5,295.7 142.9,294.2 144.2,292.6 145.6,290.9 147.0,289.2 148.3,287.2 149.7,285.2 151.0,283.1 152.4,280.8 153.8,278.3 155.1,275.7 156.5,272.9 157.8,269.9 159.2,266.7 160.5,263.3" fill="none" stroke="#c88f7c" stroke-width="1.0" stroke-linejoin="round"/>
<polyline points="28.9,351.7 29.0,342.3 29.2,335.3 29.3,330.0 29.4,326.0 29.6,322.9 29.7,320.6 29.8,318.8 30.0,317.4 30.8,313.0 31.6,311.1 32.4,309.7 33.2,308.5 34.0,307.4 34.8,306.4 35.6,305.5 36.4,304.7 37.2,303.9 38.0,303.2 38.8,302.6 39.6,302.0 40.4,301.5 41.1,301.0 41.9,300.5 42.7,300.0 43.5,299.6 44.3,299.2 45.0,298.8 45.8,298.4 46.6,298.0 47.4,297.7 48.1,297.3 48.9,296.9 49.7,296.6 50.5,296.2 51.3,295.9 52.0,295.5 52.8,295.2 53.6,294.8 54.4,294.5 55.1,294.1 55.9,293.8 56.7,293.4 57.5,293.0 58.3,292.6 59.0,292.3 59.8,291.9 60.6,291.5 61.4,291.1 62.2,290.7 62.9,290.2 63.7,289.8 64.5,289.4 65.3,288.9 66.0,288.4 66.8,288.0 67.6,287.5 68.4,287.0 69.2,286.5 69.9,286.0 70.7,285.4 71.5,284.9 72.3,284.3 73.0,283.7 73.8,283.1 74.6,282.5 75.4,281.9 76.2,281.3 76.9,280.6 77.7,280.0 78.5,279.3 79.3,278.6 80.0,277.9 80.8,277.1 81.6,276.4 82.4,275.6 83.2,274.8 83.9,274.0 84.7,273.2 85.5,272.3 86.3,271.5 87.0,270.6 87.8,269.6 88.6,268.7 89.4,267.7 90.2,266.7 90.9,265.7 91.7,264.7 92.5,263.6 93.3,262.5 94.0,261.4 94.8,260.2 95.6,259.0 96.4,257.8 97.2,256.6 97.9,255.3 98.7,254.0 99.5,252.7 100.3,251.3 101.0,249.9 101.8,248.4 102.6,246.9 103.4,245.4 104.2,243.9 104.9,242.3 105.7,240.6 106.5,238.9 107.3,237.2 108.0,235.4 108.8,233.6" fill="none" stroke="#84987a" stroke-width="1.0" stroke-linejoin="round"/>
<line x1="108.82" y1="233.88" x2="108.82" y2="246.48" stroke="#c0b8b8" stroke-width="0.9"/>
<line x1="160.55" y1="264.57" x2="160.55" y2="292.52" stroke="#c0b8b8" stroke-width="0.9"/>
<line x1="213.87" y1="279.58" x2="213.87" y2="298.82" stroke="#c0b8b8" stroke-width="0.9"/>
<rect x="42.5" y="226.0" width="40.0" height="40.75" fill="#fff" stroke="#d4d4d4" stroke-width="0.6"/>
<text x="41.30" y="268.45" font-size="4.9" fill="#3a3a3a" font-weight="bold" text-anchor="end">0</text>
<text x="41.30" y="258.26" font-size="4.9" fill="#3a3a3a" font-weight="bold" text-anchor="end">0.2</text>
<text x="41.30" y="248.07" font-size="4.9" fill="#3a3a3a" font-weight="bold" text-anchor="end">0.4</text>
<text x="41.30" y="237.89" font-size="4.9" fill="#3a3a3a" font-weight="bold" text-anchor="end">0.6</text>
<text x="41.30" y="227.70" font-size="4.9" fill="#3a3a3a" font-weight="bold" text-anchor="end">0.8</text>
<text x="42.50" y="273.05" font-size="4.9" fill="#3a3a3a" font-weight="bold" text-anchor="middle">0</text>
<text x="62.50" y="273.05" font-size="4.9" fill="#3a3a3a" font-weight="bold" text-anchor="middle">0.005</text>
<text x="82.50" y="273.05" font-size="4.9" fill="#3a3a3a" font-weight="bold" text-anchor="middle">0.01</text>
<polyline points="42.5,266.8 43.0,266.3 43.4,265.9 43.9,265.5 44.4,265.0 44.8,264.7 45.3,264.3 45.7,263.9 46.2,263.5 46.7,263.2 47.1,262.8 47.6,262.5 48.1,262.2 48.5,261.9 49.0,261.6 49.4,261.3 49.9,261.1 50.4,260.8 50.8,260.6 51.3,260.4 51.7,260.2 52.1,260.0 52.5,259.9 52.9,259.7 53.3,259.6 53.7,259.4 54.1,259.3 54.5,259.2 54.9,259.0 55.2,258.9 55.6,258.8 56.0,258.7 56.4,258.6 56.8,258.5 57.2,258.4 57.6,258.4 58.0,258.3 58.4,258.2 58.8,258.1 59.2,258.0 59.6,258.0 60.0,257.9 60.4,257.8 60.8,257.8 61.2,257.7 61.6,257.7 62.0,257.6 62.4,257.6 62.8,257.6 63.1,257.5 63.5,257.5 63.9,257.5 64.3,257.4 64.7,257.4 65.1,257.4 65.5,257.3 65.9,257.3 66.3,257.3 66.7,257.2 67.1,257.2 67.5,257.2 67.9,257.2 68.3,257.1 68.7,257.1 69.1,257.1 69.5,257.1 69.9,257.1 70.3,257.0 70.7,257.0 71.0,257.0 71.4,257.0 71.8,257.0 72.2,257.0 72.6,257.0 73.0,257.0 73.4,256.9 73.8,256.9 74.2,256.9 74.6,256.9 75.0,256.9 75.4,256.9 75.8,256.9 76.2,256.9 76.6,256.9 77.0,256.9 77.4,256.9 77.8,256.9 78.2,256.9 78.6,256.8 78.9,256.8 79.3,256.8 79.7,256.8 80.1,256.8 80.5,256.8 80.9,256.8 81.3,256.8 81.7,256.8 82.1,256.8 82.5,256.8" fill="none" stroke="#c0c4e4" stroke-width="0.9" stroke-linejoin="round"/>
<polyline points="42.5,266.8 42.9,266.0 43.3,265.2 43.7,264.4 44.1,263.7 44.5,263.0 44.9,262.3 45.3,261.7 45.7,261.0 46.1,260.4 46.5,259.8 46.9,259.3 47.3,258.8 47.7,258.3 48.1,257.8 48.5,257.4 48.9,257.0 49.3,256.7 49.7,256.3 50.1,256.1 50.5,255.8 50.9,255.5 51.3,255.3 51.7,255.1 52.2,254.9 52.6,254.7 53.0,254.5 53.4,254.4 53.8,254.2 54.2,254.1 54.6,254.0 55.0,253.9 55.4,253.8 55.8,253.7 56.3,253.6 56.7,253.5 57.1,253.4 57.5,253.3 57.9,253.2 58.3,253.2 58.7,253.1 59.1,253.0 59.5,253.0 59.9,252.9 60.4,252.9 60.8,252.8 61.2,252.8 61.6,252.7 62.0,252.7 62.4,252.6 62.8,252.6 63.2,252.6 63.6,252.5 64.0,252.5 64.5,252.5 64.9,252.4 65.3,252.4 65.7,252.4 66.1,252.3 66.5,252.3 66.9,252.3 67.3,252.2 67.7,252.2 68.1,252.2 68.6,252.2 69.0,252.2 69.4,252.1 69.8,252.1 70.2,252.1 70.6,252.1 71.0,252.1 71.4,252.0 71.8,252.0 72.2,252.0 72.7,252.0 73.1,252.0 73.5,252.0 73.9,251.9 74.3,251.9 74.7,251.9 75.1,251.9 75.5,251.9 75.9,251.9 76.3,251.8 76.8,251.8 77.2,251.8 77.6,251.8 78.0,251.8 78.4,251.8 78.8,251.8 79.2,251.8 79.6,251.8 80.0,251.8 80.4,251.7 80.9,251.7 81.3,251.7 81.7,251.7 82.1,251.7 82.5,251.7" fill="none" stroke="#ecc4b0" stroke-width="0.9" stroke-linejoin="round"/>
<polyline points="42.5,266.8 42.9,266.1 43.3,265.5 43.7,264.8 44.1,264.2 44.5,263.5 44.9,262.7 45.3,262.0 45.7,261.3 46.1,260.5 46.5,259.7 46.9,258.9 47.3,258.1 47.7,257.3 48.1,256.5 48.5,255.7 48.9,254.8 49.3,254.0 49.7,253.1 50.1,252.2 50.5,251.3 50.9,250.2 51.3,249.1 51.7,247.9 52.2,246.8 52.6,245.7 53.0,244.7 53.4,243.9 53.8,243.2 54.2,242.6 54.6,242.0 55.0,241.5 55.4,241.0 55.8,240.5 56.3,240.1 56.7,239.6 57.1,239.2 57.5,238.9 57.9,238.5 58.3,238.2 58.7,237.9 59.1,237.6 59.5,237.3 59.9,237.0 60.4,236.8 60.8,236.6 61.2,236.4 61.6,236.2 62.0,236.0 62.4,235.8 62.8,235.6 63.2,235.4 63.6,235.2 64.0,235.1 64.5,234.9 64.9,234.8 65.3,234.6 65.7,234.5 66.1,234.3 66.5,234.2 66.9,234.1 67.3,233.9 67.7,233.8 68.1,233.7 68.6,233.6 69.0,233.4 69.4,233.3 69.8,233.2 70.2,233.1 70.6,233.0 71.0,232.9 71.4,232.8 71.8,232.7 72.2,232.6 72.7,232.5 73.1,232.4 73.5,232.3 73.9,232.2 74.3,232.1 74.7,232.0 75.1,231.9 75.5,231.8 75.9,231.7 76.3,231.6 76.8,231.5 77.2,231.4 77.6,231.3 78.0,231.3 78.4,231.2 78.8,231.1 79.2,231.0 79.6,231.0 80.0,230.9 80.4,230.8 80.9,230.8 81.3,230.7 81.7,230.7 82.1,230.6 82.5,230.6" fill="none" stroke="#bcc8b0" stroke-width="0.9" stroke-linejoin="round"/>
<line x1="89.60" y1="220.90" x2="96.00" y2="220.90" stroke="#b0b0b0" stroke-width="0.9"/>
<text x="98.30" y="223.80" font-size="7.0" fill="#111" font-weight="bold" textLength="23.40" lengthAdjust="spacingAndGlyphs">15 mm</text>
<line x1="130.60" y1="220.90" x2="136.90" y2="220.90" stroke="#b0b0b0" stroke-width="0.9"/>
<text x="138.60" y="223.80" font-size="7.0" fill="#111" font-weight="bold" textLength="29.40" lengthAdjust="spacingAndGlyphs">12.5 mm</text>
<line x1="178.00" y1="220.90" x2="183.00" y2="220.90" stroke="#b0b0b0" stroke-width="0.9"/>
<text x="185.30" y="223.80" font-size="7.0" fill="#111" font-weight="bold" textLength="23.00" lengthAdjust="spacingAndGlyphs">10 mm</text>
<text x="167.20" y="338.60" font-size="10.2" fill="#111" textLength="45.80" lengthAdjust="spacingAndGlyphs" stroke="#111" stroke-width="0.15">Cut length</text>
<line x1="167.20" y1="340.60" x2="213.00" y2="340.60" stroke="#111" stroke-width="0.7"/>
<text x="122.90" y="368.20" font-size="5.9" fill="#3a3a3a" font-weight="bold" text-anchor="middle" textLength="17.00" lengthAdjust="spacingAndGlyphs">Strain</text>
<text x="18.00" y="283.00" font-size="6.1" fill="#3a3a3a" font-weight="bold" text-anchor="middle" textLength="36.90" lengthAdjust="spacingAndGlyphs" transform="rotate(-90 18.00 283.00)">Stress [MPa]</text>
<text x="275.60" y="207.40" font-size="12.7" fill="#1a1a1a" font-weight="bold" textLength="16.60" lengthAdjust="spacingAndGlyphs" stroke="#1a1a1a" stroke-width="0.1">(d)</text>
<line x1="306.80" y1="220.75" x2="306.80" y2="357.00" stroke="#c8c8c8" stroke-width="0.7"/>
<line x1="306.80" y1="357.00" x2="494.11" y2="357.00" stroke="#c8c8c8" stroke-width="0.7"/>
<text x="304.60" y="358.90" font-size="5.4" fill="#3a3a3a" font-weight="bold" text-anchor="end">0</text>
<line x1="307.00" y1="357.00" x2="308.20" y2="357.00" stroke="#c8c8c8" stroke-width="0.5"/>
<text x="304.60" y="313.65" font-size="5.4" fill="#3a3a3a" font-weight="bold" text-anchor="end">0.5</text>
<line x1="307.00" y1="311.75" x2="308.20" y2="311.75" stroke="#c8c8c8" stroke-width="0.5"/>
<text x="304.60" y="268.40" font-size="5.4" fill="#3a3a3a" font-weight="bold" text-anchor="end">1</text>
<line x1="307.00" y1="266.50" x2="308.20" y2="266.50" stroke="#c8c8c8" stroke-width="0.5"/>
<text x="304.60" y="223.15" font-size="5.4" fill="#3a3a3a" font-weight="bold" text-anchor="end">1.5</text>
<line x1="307.00" y1="221.25" x2="308.20" y2="221.25" stroke="#c8c8c8" stroke-width="0.5"/>
<text x="307.00" y="363.80" font-size="5.4" fill="#3a3a3a" font-weight="bold" text-anchor="middle">0</text>
<line x1="307.00" y1="357.00" x2="307.00" y2="355.80" stroke="#c8c8c8" stroke-width="0.5"/>
<text x="333.73" y="363.80" font-size="5.4" fill="#3a3a3a" font-weight="bold" text-anchor="middle">0.1</text>
<line x1="333.73" y1="357.00" x2="333.73" y2="355.80" stroke="#c8c8c8" stroke-width="0.5"/>
<text x="360.46" y="363.80" font-size="5.4" fill="#3a3a3a" font-weight="bold" text-anchor="middle">0.2</text>
<line x1="360.46" y1="357.00" x2="360.46" y2="355.80" stroke="#c8c8c8" stroke-width="0.5"/>
<text x="387.19" y="363.80" font-size="5.4" fill="#3a3a3a" font-weight="bold" text-anchor="middle">0.3</text>
<line x1="387.19" y1="357.00" x2="387.19" y2="355.80" stroke="#c8c8c8" stroke-width="0.5"/>
<text x="413.92" y="363.80" font-size="5.4" fill="#3a3a3a" font-weight="bold" text-anchor="middle">0.4</text>
<line x1="413.92" y1="357.00" x2="413.92" y2="355.80" stroke="#c8c8c8" stroke-width="0.5"/>
<text x="440.65" y="363.80" font-size="5.4" fill="#3a3a3a" font-weight="bold" text-anchor="middle">0.5</text>
<line x1="440.65" y1="357.00" x2="440.65" y2="355.80" stroke="#c8c8c8" stroke-width="0.5"/>
<text x="467.38" y="363.80" font-size="5.4" fill="#3a3a3a" font-weight="bold" text-anchor="middle">0.6</text>
<line x1="467.38" y1="357.00" x2="467.38" y2="355.80" stroke="#c8c8c8" stroke-width="0.5"/>
<text x="494.11" y="363.80" font-size="5.4" fill="#3a3a3a" font-weight="bold" text-anchor="middle">0.7</text>
<line x1="494.11" y1="357.00" x2="494.11" y2="355.80" stroke="#c8c8c8" stroke-width="0.5"/>
<polyline points="307.0,357.0 307.1,348.3 307.3,344.2 307.4,342.2 307.5,341.3 307.7,340.9 307.8,340.7 307.9,340.5 308.1,340.5 308.9,340.2 309.7,340.0 310.5,339.8 311.3,339.6 312.1,339.4 312.9,339.2 313.7,339.0 314.5,338.8 315.3,338.6 316.1,338.4 316.9,338.2 317.7,338.0 319.6,337.5 321.6,337.1 323.5,336.6 325.5,336.2 327.5,335.8 329.4,335.4 331.4,335.0 333.3,334.5 335.3,334.1 337.2,333.8 339.2,333.4 341.1,333.0 343.1,332.6 345.0,332.2 347.0,331.9 348.9,331.5 350.9,331.1 352.8,330.8 354.8,330.4 356.7,330.0 358.7,329.7 360.6,329.3 362.6,329.0 364.5,328.6 366.5,328.3 368.4,327.9 370.4,327.6 372.4,327.2 374.3,326.8 376.3,326.5 378.2,326.1 380.2,325.7 382.1,325.3 384.1,324.9 386.0,324.6 388.0,324.2 389.9,323.7 391.9,323.3 393.8,322.9 395.8,322.5 397.7,322.0 399.7,321.6 401.6,321.1 403.6,320.6 405.5,320.1 407.5,319.6 409.4,319.0 411.4,318.5 413.3,317.9 415.3,317.3 417.3,316.6 419.2,316.0 421.2,315.3 423.1,314.6 425.1,313.8 427.0,313.0 429.0,312.2 430.9,311.4 432.9,310.4 434.8,309.5 436.8,308.5 438.7,307.4 440.7,306.3 442.6,305.1 444.6,303.9 446.5,302.6 448.5,301.2 450.4,299.7 452.4,298.2 454.3,296.6 456.3,294.8 458.2,293.0 460.2,291.1 462.2,289.0 464.1,286.8 466.1,284.5 468.0,282.1 470.0,279.4 471.9,276.7 473.9,273.7 475.8,270.6 477.8,267.3 479.7,263.8 481.7,260.0 483.6,256.0 485.6,251.8 487.5,247.3 489.5,242.5 491.4,237.4" fill="none" stroke="#8796c0" stroke-width="1.0" stroke-linejoin="round"/>
<polyline points="307.0,357.0 307.1,347.0 307.3,342.3 307.4,340.2 307.5,339.1 307.7,338.6 307.8,338.4 307.9,338.2 308.1,338.1 308.9,337.8 309.7,337.5 310.5,337.2 311.3,336.9 312.1,336.6 312.9,336.3 313.7,336.0 314.5,335.7 315.3,335.5 316.1,335.2 316.9,334.9 317.7,334.6 319.2,334.2 320.7,333.7 322.2,333.2 323.7,332.7 325.1,332.3 326.6,331.8 328.1,331.4 329.6,330.9 331.1,330.5 332.6,330.1 334.1,329.6 335.6,329.2 337.1,328.8 338.5,328.4 340.0,328.0 341.5,327.6 343.0,327.2 344.5,326.8 346.0,326.5 347.5,326.1 349.0,325.7 350.5,325.3 352.0,324.9 353.4,324.6 354.9,324.2 356.4,323.8 357.9,323.4 359.4,323.1 360.9,322.7 362.4,322.3 363.9,321.9 365.4,321.5 366.9,321.1 368.3,320.8 369.8,320.4 371.3,320.0 372.8,319.5 374.3,319.1 375.8,318.7 377.3,318.3 378.8,317.8 380.3,317.4 381.7,316.9 383.2,316.4 384.7,315.9 386.2,315.4 387.7,314.9 389.2,314.3 390.7,313.8 392.2,313.2 393.7,312.6 395.2,311.9 396.6,311.2 398.1,310.6 399.6,309.8 401.1,309.1 402.6,308.3 404.1,307.4 405.6,306.6 407.1,305.6 408.6,304.7 410.1,303.7 411.5,302.6 413.0,301.5 414.5,300.3 416.0,299.0 417.5,297.7 419.0,296.3 420.5,294.8 422.0,293.2 423.5,291.5 424.9,289.7 426.4,287.9 427.9,285.9 429.4,283.7 430.9,281.5 432.4,279.1 433.9,276.6 435.4,273.9 436.9,271.0 438.4,267.9 439.8,264.7 441.3,261.2 442.8,257.6 444.3,253.6 445.8,249.5 447.3,245.0 448.8,240.3 450.3,235.3" fill="none" stroke="#c88f7c" stroke-width="1.0" stroke-linejoin="round"/>
<polyline points="307.0,357.0 307.1,338.3 307.3,337.8 307.4,337.5 307.5,337.3 307.7,337.0 307.8,336.7 307.9,336.5 308.1,336.2 308.9,334.9 309.7,333.9 310.5,333.0 311.3,332.3 312.1,331.7 312.9,331.1 313.7,330.6 314.5,330.2 315.3,329.8 316.1,329.4 316.9,329.0 317.7,328.7 318.7,328.3 319.7,327.8 320.8,327.4 321.8,327.0 322.8,326.6 323.8,326.2 324.9,325.8 325.9,325.4 326.9,325.0 327.9,324.6 329.0,324.2 330.0,323.8 331.0,323.3 332.0,322.9 333.1,322.5 334.1,322.1 335.1,321.7 336.1,321.3 337.2,320.8 338.2,320.4 339.2,320.0 340.2,319.5 341.2,319.1 342.3,318.7 343.3,318.2 344.3,317.8 345.3,317.3 346.4,316.9 347.4,316.4 348.4,316.0 349.4,315.5 350.5,315.0 351.5,314.5 352.5,314.0 353.5,313.6 354.6,313.1 355.6,312.5 356.6,312.0 357.6,311.5 358.7,311.0 359.7,310.4 360.7,309.9 361.7,309.3 362.8,308.7 363.8,308.1 364.8,307.5 365.8,306.9 366.9,306.3 367.9,305.6 368.9,305.0 369.9,304.3 370.9,303.6 372.0,302.9 373.0,302.1 374.0,301.4 375.0,300.6 376.1,299.8 377.1,298.9 378.1,298.0 379.1,297.1 380.2,296.2 381.2,295.2 382.2,294.2 383.2,293.1 384.3,292.0 385.3,290.9 386.3,289.7 387.3,288.4 388.4,287.1 389.4,285.7 390.4,284.3 391.4,282.8 392.5,281.2 393.5,279.6 394.5,277.9 395.5,276.0 396.6,274.1 397.6,272.1 398.6,270.0 399.6,267.8 400.6,265.4 401.7,263.0 402.7,260.4 403.7,257.6 404.7,254.7 405.8,251.7 406.8,248.4 407.8,245.0 408.8,241.4" fill="none" stroke="#84987a" stroke-width="1.0" stroke-linejoin="round"/>
<line x1="408.84" y1="241.16" x2="408.84" y2="256.18" stroke="#c0b8b8" stroke-width="0.9"/>
<line x1="450.27" y1="235.37" x2="450.27" y2="271.21" stroke="#c0b8b8" stroke-width="0.9"/>
<line x1="491.44" y1="237.72" x2="491.44" y2="270.03" stroke="#c0b8b8" stroke-width="0.9"/>
<rect x="321.8" y="223.3" width="42.0" height="38.69999999999999" fill="#fff" stroke="#d4d4d4" stroke-width="0.6"/>
<text x="320.60" y="263.70" font-size="4.9" fill="#3a3a3a" font-weight="bold" text-anchor="end">0</text>
<text x="320.60" y="250.80" font-size="4.9" fill="#3a3a3a" font-weight="bold" text-anchor="end">0.1</text>
<text x="320.60" y="237.90" font-size="4.9" fill="#3a3a3a" font-weight="bold" text-anchor="end">0.2</text>
<text x="320.60" y="225.00" font-size="4.9" fill="#3a3a3a" font-weight="bold" text-anchor="end">0.3</text>
<text x="321.80" y="268.30" font-size="4.9" fill="#3a3a3a" font-weight="bold" text-anchor="middle">0</text>
<text x="342.80" y="268.30" font-size="4.9" fill="#3a3a3a" font-weight="bold" text-anchor="middle">0.005</text>
<text x="363.80" y="268.30" font-size="4.9" fill="#3a3a3a" font-weight="bold" text-anchor="middle">0.01</text>
<polyline points="321.8,262.0 322.3,260.5 322.7,259.1 323.2,257.8 323.7,256.5 324.1,255.2 324.6,254.1 325.0,252.9 325.5,251.9 326.0,250.9 326.4,249.9 326.9,249.0 327.4,248.2 327.8,247.4 328.3,246.7 328.8,246.0 329.2,245.4 329.7,244.9 330.2,244.4 330.6,243.9 331.0,243.6 331.5,243.3 331.9,243.0 332.3,242.8 332.7,242.7 333.1,242.5 333.6,242.4 334.0,242.3 334.4,242.2 334.8,242.1 335.2,242.0 335.7,241.9 336.1,241.9 336.5,241.8 336.9,241.7 337.3,241.7 337.8,241.6 338.2,241.6 338.6,241.5 339.0,241.5 339.4,241.4 339.9,241.4 340.3,241.3 340.7,241.3 341.1,241.2 341.5,241.2 342.0,241.1 342.4,241.1 342.8,241.0 343.2,241.0 343.6,240.9 344.1,240.9 344.5,240.9 344.9,240.8 345.3,240.8 345.7,240.8 346.2,240.7 346.6,240.7 347.0,240.6 347.4,240.6 347.8,240.6 348.3,240.5 348.7,240.5 349.1,240.5 349.5,240.5 349.9,240.4 350.4,240.4 350.8,240.4 351.2,240.3 351.6,240.3 352.0,240.3 352.5,240.2 352.9,240.2 353.3,240.2 353.7,240.1 354.1,240.1 354.6,240.1 355.0,240.1 355.4,240.0 355.8,240.0 356.2,240.0 356.7,240.0 357.1,239.9 357.5,239.9 357.9,239.9 358.3,239.8 358.8,239.8 359.2,239.8 359.6,239.8 360.0,239.7 360.4,239.7 360.9,239.7 361.3,239.7 361.7,239.7 362.1,239.6 362.5,239.6 363.0,239.6 363.4,239.6 363.8,239.6" fill="none" stroke="#c0c4e4" stroke-width="0.9" stroke-linejoin="round"/>
<polyline points="321.8,262.0 322.3,260.2 322.7,258.4 323.2,256.7 323.7,255.1 324.1,253.6 324.6,252.1 325.0,250.7 325.5,249.4 326.0,248.2 326.4,247.0 326.9,245.9 327.4,244.9 327.8,244.0 328.3,243.1 328.8,242.4 329.2,241.7 329.7,241.0 330.2,240.5 330.6,240.1 331.0,239.7 331.5,239.4 331.9,239.2 332.3,238.9 332.7,238.8 333.1,238.7 333.6,238.5 334.0,238.4 334.4,238.3 334.8,238.2 335.2,238.1 335.7,238.1 336.1,238.0 336.5,237.9 336.9,237.8 337.3,237.8 337.8,237.7 338.2,237.7 338.6,237.6 339.0,237.6 339.4,237.5 339.9,237.5 340.3,237.5 340.7,237.4 341.1,237.4 341.5,237.4 342.0,237.3 342.4,237.3 342.8,237.3 343.2,237.2 343.6,237.2 344.1,237.2 344.5,237.2 344.9,237.1 345.3,237.1 345.7,237.1 346.2,237.1 346.6,237.1 347.0,237.0 347.4,237.0 347.8,237.0 348.3,237.0 348.7,237.0 349.1,236.9 349.5,236.9 349.9,236.9 350.4,236.9 350.8,236.9 351.2,236.8 351.6,236.8 352.0,236.8 352.5,236.8 352.9,236.8 353.3,236.7 353.7,236.7 354.1,236.7 354.6,236.7 355.0,236.6 355.4,236.6 355.8,236.6 356.2,236.6 356.7,236.6 357.1,236.5 357.5,236.5 357.9,236.5 358.3,236.5 358.8,236.4 359.2,236.4 359.6,236.4 360.0,236.4 360.4,236.4 360.9,236.3 361.3,236.3 361.7,236.3 362.1,236.3 362.5,236.3 363.0,236.2 363.4,236.2 363.8,236.2" fill="none" stroke="#ecc4b0" stroke-width="0.9" stroke-linejoin="round"/>
<polyline points="321.8,262.0 322.3,259.6 322.7,257.4 323.2,255.2 323.7,253.1 324.1,251.1 324.6,249.2 325.0,247.5 325.5,245.8 326.0,244.2 326.4,242.7 326.9,241.4 327.4,240.1 327.8,239.0 328.3,237.9 328.8,237.0 329.2,236.2 329.7,235.5 330.2,235.0 330.6,234.5 331.0,234.2 331.5,233.9 331.9,233.7 332.3,233.5 332.7,233.4 333.1,233.2 333.6,233.1 334.0,233.0 334.4,232.9 334.8,232.8 335.2,232.7 335.7,232.6 336.1,232.6 336.5,232.5 336.9,232.4 337.3,232.4 337.8,232.3 338.2,232.2 338.6,232.2 339.0,232.1 339.4,232.0 339.9,231.9 340.3,231.9 340.7,231.8 341.1,231.7 341.5,231.6 342.0,231.6 342.4,231.5 342.8,231.4 343.2,231.4 343.6,231.3 344.1,231.2 344.5,231.1 344.9,231.1 345.3,231.0 345.7,230.9 346.2,230.9 346.6,230.8 347.0,230.7 347.4,230.7 347.8,230.6 348.3,230.6 348.7,230.5 349.1,230.4 349.5,230.4 349.9,230.3 350.4,230.3 350.8,230.2 351.2,230.1 351.6,230.1 352.0,230.0 352.5,230.0 352.9,229.9 353.3,229.9 353.7,229.8 354.1,229.8 354.6,229.7 355.0,229.7 355.4,229.6 355.8,229.6 356.2,229.5 356.7,229.5 357.1,229.4 357.5,229.4 357.9,229.3 358.3,229.3 358.8,229.2 359.2,229.2 359.6,229.1 360.0,229.1 360.4,229.0 360.9,229.0 361.3,229.0 361.7,228.9 362.1,228.9 362.5,228.8 363.0,228.8 363.4,228.8 363.8,228.7" fill="none" stroke="#bcc8b0" stroke-width="0.9" stroke-linejoin="round"/>
<line x1="371.00" y1="228.00" x2="374.60" y2="228.00" stroke="#b0b0b0" stroke-width="0.9"/>
<text x="375.20" y="230.90" font-size="7.0" fill="#111" font-weight="bold" textLength="25.70" lengthAdjust="spacingAndGlyphs">1.5 mm</text>
<line x1="411.20" y1="228.00" x2="414.80" y2="228.00" stroke="#b0b0b0" stroke-width="0.9"/>
<text x="415.80" y="230.90" font-size="7.0" fill="#111" font-weight="bold" textLength="25.20" lengthAdjust="spacingAndGlyphs">2.5 mm</text>
<line x1="450.80" y1="228.00" x2="454.40" y2="228.00" stroke="#b0b0b0" stroke-width="0.9"/>
<text x="455.30" y="230.90" font-size="7.0" fill="#111" font-weight="bold" textLength="24.90" lengthAdjust="spacingAndGlyphs">3.5 mm</text>
<text x="439.30" y="341.60" font-size="10.2" fill="#111" textLength="56.10" lengthAdjust="spacingAndGlyphs" stroke="#111" stroke-width="0.15">Hinge length</text>
<line x1="439.30" y1="343.00" x2="495.40" y2="343.00" stroke="#111" stroke-width="0.7"/>
<text x="400.50" y="372.40" font-size="5.7" fill="#3a3a3a" font-weight="bold" text-anchor="middle" textLength="16.00" lengthAdjust="spacingAndGlyphs">Strain</text>
<text x="294.00" y="281.00" font-size="6.1" fill="#3a3a3a" font-weight="bold" text-anchor="middle" textLength="37.00" lengthAdjust="spacingAndGlyphs" transform="rotate(-90 294.00 281.00)">Stress [MPa]</text>
<text x="0.40" y="409.00" font-size="12.7" fill="#1a1a1a" font-weight="bold" textLength="15.50" lengthAdjust="spacingAndGlyphs" stroke="#1a1a1a" stroke-width="0.1">(e)</text>
<line x1="28.70" y1="432.40" x2="28.70" y2="569.50" stroke="#c8c8c8" stroke-width="0.7"/>
<line x1="28.70" y1="569.50" x2="216.01" y2="569.50" stroke="#c8c8c8" stroke-width="0.7"/>
<text x="26.50" y="571.40" font-size="5.4" fill="#3a3a3a" font-weight="bold" text-anchor="end">0</text>
<line x1="28.90" y1="569.50" x2="30.10" y2="569.50" stroke="#c8c8c8" stroke-width="0.5"/>
<text x="26.50" y="557.74" font-size="5.4" fill="#3a3a3a" font-weight="bold" text-anchor="end">0.2</text>
<line x1="28.90" y1="555.84" x2="30.10" y2="555.84" stroke="#c8c8c8" stroke-width="0.5"/>
<text x="26.50" y="544.08" font-size="5.4" fill="#3a3a3a" font-weight="bold" text-anchor="end">0.4</text>
<line x1="28.90" y1="542.18" x2="30.10" y2="542.18" stroke="#c8c8c8" stroke-width="0.5"/>
<text x="26.50" y="530.42" font-size="5.4" fill="#3a3a3a" font-weight="bold" text-anchor="end">0.6</text>
<line x1="28.90" y1="528.52" x2="30.10" y2="528.52" stroke="#c8c8c8" stroke-width="0.5"/>
<text x="26.50" y="516.76" font-size="5.4" fill="#3a3a3a" font-weight="bold" text-anchor="end">0.8</text>
<line x1="28.90" y1="514.86" x2="30.10" y2="514.86" stroke="#c8c8c8" stroke-width="0.5"/>
<text x="26.50" y="503.10" font-size="5.4" fill="#3a3a3a" font-weight="bold" text-anchor="end">1</text>
<line x1="28.90" y1="501.20" x2="30.10" y2="501.20" stroke="#c8c8c8" stroke-width="0.5"/>
<text x="26.50" y="489.44" font-size="5.4" fill="#3a3a3a" font-weight="bold" text-anchor="end">1.2</text>
<line x1="28.90" y1="487.54" x2="30.10" y2="487.54" stroke="#c8c8c8" stroke-width="0.5"/>
<text x="26.50" y="475.78" font-size="5.4" fill="#3a3a3a" font-weight="bold" text-anchor="end">1.4</text>
<line x1="28.90" y1="473.88" x2="30.10" y2="473.88" stroke="#c8c8c8" stroke-width="0.5"/>
<text x="26.50" y="462.12" font-size="5.4" fill="#3a3a3a" font-weight="bold" text-anchor="end">1.6</text>
<line x1="28.90" y1="460.22" x2="30.10" y2="460.22" stroke="#c8c8c8" stroke-width="0.5"/>
<text x="26.50" y="448.46" font-size="5.4" fill="#3a3a3a" font-weight="bold" text-anchor="end">1.8</text>
<line x1="28.90" y1="446.56" x2="30.10" y2="446.56" stroke="#c8c8c8" stroke-width="0.5"/>
<text x="26.50" y="434.80" font-size="5.4" fill="#3a3a3a" font-weight="bold" text-anchor="end">2</text>
<line x1="28.90" y1="432.90" x2="30.10" y2="432.90" stroke="#c8c8c8" stroke-width="0.5"/>
<text x="28.90" y="576.30" font-size="5.4" fill="#3a3a3a" font-weight="bold" text-anchor="middle">0</text>
<line x1="28.90" y1="569.50" x2="28.90" y2="568.30" stroke="#c8c8c8" stroke-width="0.5"/>
<text x="55.63" y="576.30" font-size="5.4" fill="#3a3a3a" font-weight="bold" text-anchor="middle">0.1</text>
<line x1="55.63" y1="569.50" x2="55.63" y2="568.30" stroke="#c8c8c8" stroke-width="0.5"/>
<text x="82.36" y="576.30" font-size="5.4" fill="#3a3a3a" font-weight="bold" text-anchor="middle">0.2</text>
<line x1="82.36" y1="569.50" x2="82.36" y2="568.30" stroke="#c8c8c8" stroke-width="0.5"/>
<text x="109.09" y="576.30" font-size="5.4" fill="#3a3a3a" font-weight="bold" text-anchor="middle">0.3</text>
<line x1="109.09" y1="569.50" x2="109.09" y2="568.30" stroke="#c8c8c8" stroke-width="0.5"/>
<text x="135.82" y="576.30" font-size="5.4" fill="#3a3a3a" font-weight="bold" text-anchor="middle">0.4</text>
<line x1="135.82" y1="569.50" x2="135.82" y2="568.30" stroke="#c8c8c8" stroke-width="0.5"/>
<text x="162.55" y="576.30" font-size="5.4" fill="#3a3a3a" font-weight="bold" text-anchor="middle">0.5</text>
<line x1="162.55" y1="569.50" x2="162.55" y2="568.30" stroke="#c8c8c8" stroke-width="0.5"/>
<text x="189.28" y="576.30" font-size="5.4" fill="#3a3a3a" font-weight="bold" text-anchor="middle">0.6</text>
<line x1="189.28" y1="569.50" x2="189.28" y2="568.30" stroke="#c8c8c8" stroke-width="0.5"/>
<text x="216.01" y="576.30" font-size="5.4" fill="#3a3a3a" font-weight="bold" text-anchor="middle">0.7</text>
<line x1="216.01" y1="569.50" x2="216.01" y2="568.30" stroke="#c8c8c8" stroke-width="0.5"/>
<polyline points="28.9,569.5 29.0,564.4 29.2,561.5 29.3,559.9 29.4,559.0 29.6,558.5 29.7,558.2 29.8,558.0 30.0,557.9 30.8,557.6 31.6,557.4 32.4,557.2 33.2,557.0 34.0,556.8 34.8,556.6 35.6,556.4 36.4,556.3 37.2,556.1 38.0,555.9 38.8,555.7 39.6,555.5 41.5,555.1 43.5,554.7 45.4,554.3 47.4,553.9 49.3,553.5 51.3,553.2 53.2,552.8 55.2,552.4 57.1,552.1 59.1,551.8 61.0,551.4 63.0,551.1 64.9,550.8 66.9,550.4 68.8,550.1 70.8,549.8 72.7,549.5 74.7,549.2 76.6,548.9 78.6,548.6 80.5,548.3 82.5,548.0 84.4,547.7 86.4,547.4 88.3,547.1 90.3,546.8 92.2,546.5 94.2,546.2 96.1,545.9 98.1,545.6 100.0,545.3 102.0,545.0 103.9,544.7 105.9,544.3 107.8,544.0 109.8,543.6 111.7,543.3 113.7,542.9 115.6,542.6 117.6,542.2 119.5,541.8 121.5,541.4 123.4,541.0 125.4,540.6 127.3,540.1 129.3,539.7 131.2,539.2 133.2,538.7 135.1,538.2 137.1,537.6 139.0,537.1 140.9,536.5 142.9,535.9 144.8,535.3 146.8,534.7 148.7,534.0 150.7,533.3 152.6,532.5 154.6,531.8 156.5,531.0 158.5,530.1 160.4,529.2 162.4,528.3 164.3,527.4 166.3,526.4 168.2,525.3 170.2,524.2 172.1,523.0 174.1,521.8 176.0,520.6 178.0,519.2 179.9,517.8 181.9,516.4 183.8,514.8 185.8,513.2 187.7,511.5 189.7,509.8 191.6,507.9 193.6,506.0 195.5,503.9 197.5,501.8 199.4,499.5 201.4,497.1 203.3,494.6 205.3,492.0 207.2,489.3 209.2,486.4 211.1,483.4 213.1,480.2" fill="none" stroke="#8796c0" stroke-width="1.0" stroke-linejoin="round"/>
<polyline points="28.9,569.5 29.0,562.0 29.2,558.0 29.3,555.8 29.4,554.7 29.6,554.0 29.7,553.7 29.8,553.5 30.0,553.3 30.8,552.9 31.6,552.6 32.4,552.3 33.2,552.1 34.0,551.8 34.8,551.5 35.6,551.3 36.4,551.0 37.2,550.8 38.0,550.5 38.8,550.3 39.6,550.1 41.2,549.6 42.9,549.1 44.5,548.7 46.2,548.3 47.8,547.9 49.4,547.5 51.1,547.1 52.7,546.8 54.4,546.4 56.0,546.1 57.7,545.8 59.3,545.4 60.9,545.1 62.6,544.8 64.2,544.5 65.9,544.2 67.5,543.9 69.2,543.6 70.8,543.3 72.4,543.0 74.1,542.7 75.7,542.4 77.4,542.1 79.0,541.8 80.7,541.5 82.3,541.2 83.9,540.9 85.6,540.6 87.2,540.3 88.9,540.0 90.5,539.7 92.2,539.3 93.8,539.0 95.4,538.7 97.1,538.3 98.7,538.0 100.4,537.6 102.0,537.2 103.7,536.8 105.3,536.4 106.9,536.0 108.6,535.6 110.2,535.2 111.9,534.7 113.5,534.3 115.2,533.8 116.8,533.3 118.4,532.8 120.1,532.2 121.7,531.7 123.4,531.1 125.0,530.5 126.7,529.8 128.3,529.2 129.9,528.5 131.6,527.8 133.2,527.0 134.9,526.2 136.5,525.4 138.2,524.6 139.8,523.7 141.4,522.7 143.1,521.8 144.7,520.7 146.4,519.6 148.0,518.5 149.7,517.3 151.3,516.1 152.9,514.8 154.6,513.4 156.2,512.0 157.9,510.5 159.5,508.9 161.2,507.3 162.8,505.6 164.4,503.7 166.1,501.8 167.7,499.8 169.4,497.7 171.0,495.5 172.7,493.2 174.3,490.7 175.9,488.1 177.6,485.4 179.2,482.5 180.9,479.5 182.5,476.4 184.2,473.1 185.8,469.6" fill="none" stroke="#c88f7c" stroke-width="1.0" stroke-linejoin="round"/>
<polyline points="28.9,569.5 29.0,560.4 29.2,555.6 29.3,553.1 29.4,551.8 29.6,551.1 29.7,550.6 29.8,550.4 30.0,550.2 30.8,549.7 31.6,549.3 32.4,548.9 33.2,548.5 34.0,548.2 34.8,547.8 35.6,547.5 36.4,547.2 37.2,546.9 38.0,546.6 38.8,546.3 39.6,546.0 41.0,545.5 42.5,545.1 44.0,544.7 45.4,544.2 46.9,543.8 48.3,543.4 49.8,543.0 51.2,542.6 52.7,542.2 54.2,541.9 55.6,541.5 57.1,541.1 58.5,540.7 60.0,540.3 61.4,540.0 62.9,539.6 64.4,539.2 65.8,538.9 67.3,538.5 68.7,538.1 70.2,537.7 71.6,537.3 73.1,537.0 74.6,536.6 76.0,536.2 77.5,535.8 78.9,535.4 80.4,535.0 81.8,534.6 83.3,534.2 84.7,533.8 86.2,533.4 87.7,533.0 89.1,532.6 90.6,532.2 92.0,531.7 93.5,531.3 94.9,530.8 96.4,530.4 97.9,529.9 99.3,529.5 100.8,529.0 102.2,528.5 103.7,528.0 105.1,527.5 106.6,527.0 108.1,526.4 109.5,525.9 111.0,525.3 112.4,524.7 113.9,524.1 115.3,523.5 116.8,522.8 118.3,522.2 119.7,521.5 121.2,520.7 122.6,520.0 124.1,519.2 125.5,518.4 127.0,517.5 128.4,516.6 129.9,515.6 131.4,514.6 132.8,513.6 134.3,512.5 135.7,511.3 137.2,510.1 138.6,508.8 140.1,507.4 141.6,505.9 143.0,504.4 144.5,502.7 145.9,501.0 147.4,499.1 148.8,497.1 150.3,495.0 151.8,492.8 153.2,490.3 154.7,487.8 156.1,485.0 157.6,482.1 159.0,478.9 160.5,475.5 161.9,471.9 163.4,468.0 164.9,463.9 166.3,459.4 167.8,454.6 169.2,449.4" fill="none" stroke="#84987a" stroke-width="1.0" stroke-linejoin="round"/>
<line x1="169.23" y1="448.81" x2="169.23" y2="482.76" stroke="#c0b8b8" stroke-width="0.9"/>
<line x1="185.81" y1="469.51" x2="185.81" y2="495.39" stroke="#c0b8b8" stroke-width="0.9"/>
<line x1="213.07" y1="480.37" x2="213.07" y2="503.52" stroke="#c0b8b8" stroke-width="0.9"/>
<rect x="42.5" y="436.3" width="42.7" height="39.19999999999999" fill="#fff" stroke="#d4d4d4" stroke-width="0.6"/>
<text x="41.30" y="477.20" font-size="4.9" fill="#3a3a3a" font-weight="bold" text-anchor="end">0</text>
<text x="41.30" y="464.13" font-size="4.9" fill="#3a3a3a" font-weight="bold" text-anchor="end">0.1</text>
<text x="41.30" y="451.07" font-size="4.9" fill="#3a3a3a" font-weight="bold" text-anchor="end">0.2</text>
<text x="41.30" y="438.00" font-size="4.9" fill="#3a3a3a" font-weight="bold" text-anchor="end">0.3</text>
<text x="42.50" y="481.80" font-size="4.9" fill="#3a3a3a" font-weight="bold" text-anchor="middle">0</text>
<text x="63.85" y="481.80" font-size="4.9" fill="#3a3a3a" font-weight="bold" text-anchor="middle">0.005</text>
<text x="85.20" y="481.80" font-size="4.9" fill="#3a3a3a" font-weight="bold" text-anchor="middle">0.01</text>
<polyline points="42.5,475.5 42.9,474.2 43.4,472.9 43.8,471.7 44.3,470.5 44.7,469.4 45.2,468.4 45.6,467.3 46.1,466.4 46.5,465.5 47.0,464.6 47.4,463.9 47.9,463.1 48.3,462.5 48.8,461.8 49.2,461.3 49.7,460.8 50.1,460.4 50.6,460.0 51.0,459.7 51.5,459.4 51.9,459.2 52.3,459.1 52.7,458.9 53.2,458.8 53.6,458.6 54.0,458.5 54.5,458.4 54.9,458.2 55.3,458.1 55.7,458.0 56.2,457.9 56.6,457.8 57.0,457.7 57.4,457.5 57.9,457.4 58.3,457.3 58.7,457.2 59.2,457.1 59.6,457.0 60.0,456.9 60.4,456.8 60.9,456.7 61.3,456.6 61.7,456.5 62.1,456.4 62.6,456.3 63.0,456.2 63.4,456.1 63.9,456.0 64.3,455.9 64.7,455.8 65.1,455.8 65.6,455.7 66.0,455.6 66.4,455.5 66.8,455.4 67.3,455.3 67.7,455.3 68.1,455.2 68.5,455.1 69.0,455.0 69.4,455.0 69.8,454.9 70.3,454.9 70.7,454.8 71.1,454.7 71.5,454.7 72.0,454.6 72.4,454.6 72.8,454.5 73.2,454.4 73.7,454.4 74.1,454.3 74.5,454.3 75.0,454.2 75.4,454.2 75.8,454.1 76.2,454.1 76.7,454.0 77.1,454.0 77.5,453.9 77.9,453.9 78.4,453.8 78.8,453.8 79.2,453.7 79.6,453.7 80.1,453.6 80.5,453.6 80.9,453.6 81.4,453.5 81.8,453.5 82.2,453.5 82.6,453.4 83.1,453.4 83.5,453.4 83.9,453.3 84.3,453.3 84.8,453.3" fill="none" stroke="#c0c4e4" stroke-width="0.9" stroke-linejoin="round"/>
<polyline points="42.5,475.5 42.9,473.3 43.4,471.2 43.8,469.1 44.2,467.2 44.6,465.4 45.1,463.6 45.5,461.9 45.9,460.4 46.3,458.9 46.8,457.5 47.2,456.3 47.6,455.1 48.1,454.1 48.5,453.2 48.9,452.4 49.3,451.7 49.8,451.2 50.2,450.7 50.6,450.4 51.0,450.2 51.5,450.0 51.9,449.9 52.3,449.7 52.8,449.6 53.2,449.5 53.6,449.4 54.1,449.3 54.5,449.3 54.9,449.2 55.4,449.1 55.8,449.1 56.2,449.0 56.7,449.0 57.1,448.9 57.5,448.8 58.0,448.8 58.4,448.7 58.8,448.6 59.3,448.6 59.7,448.5 60.1,448.4 60.6,448.3 61.0,448.3 61.4,448.2 61.9,448.1 62.3,448.1 62.7,448.0 63.2,447.9 63.6,447.8 64.0,447.8 64.4,447.7 64.9,447.6 65.3,447.6 65.7,447.5 66.2,447.4 66.6,447.4 67.0,447.3 67.5,447.3 67.9,447.2 68.3,447.1 68.8,447.1 69.2,447.0 69.6,447.0 70.1,446.9 70.5,446.9 70.9,446.8 71.4,446.8 71.8,446.8 72.2,446.7 72.7,446.7 73.1,446.6 73.5,446.6 74.0,446.5 74.4,446.5 74.8,446.4 75.3,446.4 75.7,446.4 76.1,446.3 76.6,446.3 77.0,446.2 77.4,446.2 77.9,446.2 78.3,446.1 78.7,446.1 79.2,446.1 79.6,446.0 80.0,446.0 80.4,446.0 80.9,445.9 81.3,445.9 81.7,445.9 82.2,445.8 82.6,445.8 83.0,445.8 83.5,445.8 83.9,445.7 84.3,445.7 84.8,445.7" fill="none" stroke="#ecc4b0" stroke-width="0.9" stroke-linejoin="round"/>
<polyline points="42.5,475.5 42.9,473.3 43.2,471.2 43.6,469.1 43.9,467.1 44.3,465.3 44.7,463.5 45.0,461.7 45.4,460.1 45.7,458.5 46.1,457.1 46.5,455.7 46.8,454.4 47.2,453.2 47.5,452.1 47.9,451.1 48.3,450.2 48.6,449.4 49.0,448.7 49.3,448.1 49.8,447.4 50.2,446.8 50.7,446.3 51.1,445.9 51.6,445.6 52.0,445.4 52.5,445.2 52.9,445.0 53.4,444.8 53.8,444.6 54.3,444.5 54.7,444.3 55.2,444.2 55.6,444.1 56.1,443.9 56.5,443.8 57.0,443.7 57.4,443.6 57.9,443.5 58.3,443.4 58.8,443.2 59.2,443.1 59.7,443.0 60.1,442.9 60.5,442.8 61.0,442.7 61.4,442.5 61.9,442.4 62.3,442.3 62.8,442.2 63.2,442.1 63.7,442.0 64.1,441.9 64.6,441.8 65.0,441.7 65.5,441.6 65.9,441.5 66.4,441.5 66.8,441.4 67.3,441.3 67.7,441.2 68.2,441.2 68.6,441.1 69.1,441.0 69.5,441.0 70.0,440.9 70.4,440.9 70.9,440.8 71.3,440.8 71.8,440.7 72.2,440.7 72.7,440.6 73.1,440.6 73.6,440.5 74.0,440.5 74.5,440.4 74.9,440.4 75.4,440.4 75.8,440.3 76.2,440.3 76.7,440.2 77.1,440.2 77.6,440.2 78.0,440.1 78.5,440.1 78.9,440.0 79.4,440.0 79.8,440.0 80.3,440.0 80.7,439.9 81.2,439.9 81.6,439.9 82.1,439.9 82.5,439.9 83.0,439.9 83.4,439.8 83.9,439.8 84.3,439.8 84.8,439.8" fill="none" stroke="#bcc8b0" stroke-width="0.9" stroke-linejoin="round"/>
<line x1="98.00" y1="439.60" x2="101.80" y2="439.60" stroke="#b0b0b0" stroke-width="0.9"/>
<text x="102.90" y="442.50" font-size="7.0" fill="#111" font-weight="bold" textLength="25.10" lengthAdjust="spacingAndGlyphs">3.0 mm</text>
<line x1="138.70" y1="439.60" x2="142.50" y2="439.60" stroke="#b0b0b0" stroke-width="0.9"/>
<text x="143.50" y="442.50" font-size="7.0" fill="#111" font-weight="bold" textLength="25.20" lengthAdjust="spacingAndGlyphs">3.5 mm</text>
<line x1="178.00" y1="439.60" x2="181.80" y2="439.60" stroke="#b0b0b0" stroke-width="0.9"/>
<text x="183.60" y="442.50" font-size="7.0" fill="#111" font-weight="bold" textLength="24.40" lengthAdjust="spacingAndGlyphs">4.0 mm</text>
<text x="163.00" y="555.00" font-size="10.2" fill="#111" textLength="52.10" lengthAdjust="spacingAndGlyphs" stroke="#111" stroke-width="0.15">Cut spacing</text>
<line x1="163.00" y1="557.00" x2="215.10" y2="557.00" stroke="#111" stroke-width="0.7"/>
<text x="122.90" y="584.20" font-size="5.9" fill="#3a3a3a" font-weight="bold" text-anchor="middle" textLength="17.00" lengthAdjust="spacingAndGlyphs">Strain</text>
<text x="18.00" y="501.50" font-size="6.1" fill="#3a3a3a" font-weight="bold" text-anchor="middle" textLength="36.90" lengthAdjust="spacingAndGlyphs" transform="rotate(-90 18.00 501.50)">Stress [MPa]</text>
<text x="275.30" y="409.20" font-size="12.7" fill="#1a1a1a" font-weight="bold" textLength="14.30" lengthAdjust="spacingAndGlyphs" stroke="#1a1a1a" stroke-width="0.1">(f)</text>
<line x1="313.80" y1="427.00" x2="313.80" y2="567.80" stroke="#c8c8c8" stroke-width="0.7"/>
<line x1="313.80" y1="567.80" x2="517.50" y2="567.80" stroke="#c8c8c8" stroke-width="0.7"/>
<text x="311.40" y="570.60" font-size="7.8" fill="#2a2a2a" font-weight="bold" text-anchor="end">0</text>
<line x1="313.80" y1="567.80" x2="315.20" y2="567.80" stroke="#c8c8c8" stroke-width="0.5"/>
<text x="311.40" y="547.22" font-size="7.8" fill="#2a2a2a" font-weight="bold" text-anchor="end">2</text>
<line x1="313.80" y1="544.42" x2="315.20" y2="544.42" stroke="#c8c8c8" stroke-width="0.5"/>
<text x="311.40" y="523.84" font-size="7.8" fill="#2a2a2a" font-weight="bold" text-anchor="end">4</text>
<line x1="313.80" y1="521.04" x2="315.20" y2="521.04" stroke="#c8c8c8" stroke-width="0.5"/>
<text x="311.40" y="500.46" font-size="7.8" fill="#2a2a2a" font-weight="bold" text-anchor="end">6</text>
<line x1="313.80" y1="497.66" x2="315.20" y2="497.66" stroke="#c8c8c8" stroke-width="0.5"/>
<text x="311.40" y="477.08" font-size="7.8" fill="#2a2a2a" font-weight="bold" text-anchor="end">8</text>
<line x1="313.80" y1="474.28" x2="315.20" y2="474.28" stroke="#c8c8c8" stroke-width="0.5"/>
<text x="311.40" y="453.70" font-size="7.8" fill="#2a2a2a" font-weight="bold" text-anchor="end">10</text>
<line x1="313.80" y1="450.90" x2="315.20" y2="450.90" stroke="#c8c8c8" stroke-width="0.5"/>
<text x="311.40" y="430.32" font-size="7.8" fill="#2a2a2a" font-weight="bold" text-anchor="end">12</text>
<line x1="313.80" y1="427.52" x2="315.20" y2="427.52" stroke="#c8c8c8" stroke-width="0.5"/>
<text x="313.00" y="578.40" font-size="7.8" fill="#2a2a2a" font-weight="bold" text-anchor="middle">0.5</text>
<line x1="313.00" y1="567.80" x2="313.00" y2="566.40" stroke="#c8c8c8" stroke-width="0.5"/>
<text x="353.90" y="578.40" font-size="7.8" fill="#2a2a2a" font-weight="bold" text-anchor="middle">1</text>
<line x1="353.90" y1="567.80" x2="353.90" y2="566.40" stroke="#c8c8c8" stroke-width="0.5"/>
<text x="394.80" y="578.40" font-size="7.8" fill="#2a2a2a" font-weight="bold" text-anchor="middle">1.5</text>
<line x1="394.80" y1="567.80" x2="394.80" y2="566.40" stroke="#c8c8c8" stroke-width="0.5"/>
<text x="435.70" y="578.40" font-size="7.8" fill="#2a2a2a" font-weight="bold" text-anchor="middle">2</text>
<line x1="435.70" y1="567.80" x2="435.70" y2="566.40" stroke="#c8c8c8" stroke-width="0.5"/>
<text x="476.60" y="578.40" font-size="7.8" fill="#2a2a2a" font-weight="bold" text-anchor="middle">2.5</text>
<line x1="476.60" y1="567.80" x2="476.60" y2="566.40" stroke="#c8c8c8" stroke-width="0.5"/>
<text x="517.50" y="578.40" font-size="7.8" fill="#2a2a2a" font-weight="bold" text-anchor="middle">3</text>
<line x1="517.50" y1="567.80" x2="517.50" y2="566.40" stroke="#c8c8c8" stroke-width="0.5"/>
<text x="415.20" y="590.80" font-size="8.6" fill="#222" font-weight="bold" text-anchor="middle" textLength="56.50" lengthAdjust="spacingAndGlyphs">Change Ratio</text>
<text x="297.60" y="494.50" font-size="8.8" fill="#222" font-weight="bold" text-anchor="middle" textLength="103.00" lengthAdjust="spacingAndGlyphs" transform="rotate(-90 297.60 494.50)">Effective Modulus [MPa]</text>
<line x1="317.09" y1="566.05" x2="517.50" y2="522.21" stroke="#d8d6c4" stroke-width="0.9"/>
<line x1="317.09" y1="560.55" x2="517.50" y2="547.34" stroke="#e6e2a8" stroke-width="0.9"/>
<polyline points="316.7,426.4 317.4,430.7 318.0,440.2 318.7,449.0 319.4,457.1 320.0,464.4 320.7,471.2 321.4,477.4 322.1,483.2 322.7,488.5 323.4,493.4 324.1,497.9 324.7,502.0 325.4,505.9 326.1,509.5 326.8,512.8 327.4,515.9 328.1,518.7 328.8,521.4 329.4,523.9 330.1,526.2 330.8,528.3 331.5,530.3 332.1,532.2 332.8,534.0 333.5,535.6 334.1,537.1 334.8,538.6 335.5,539.9 336.2,541.2 336.8,542.4 337.5,543.5 338.2,544.5 338.8,545.5 339.5,546.4 340.2,547.3 340.9,548.1 341.5,548.9 342.2,549.6 342.9,550.3 343.5,551.0 344.2,551.6 344.9,552.2 345.6,552.7 346.2,553.2 346.9,553.7 347.6,554.2 348.2,554.6 348.9,555.1 349.6,555.5 350.3,555.8 350.9,556.2 351.6,556.5 352.3,556.9 352.9,557.2 353.6,557.5 354.3,557.7 355.0,558.0 355.6,558.2 356.3,558.5 357.0,558.7 357.7,558.9 358.3,559.1 359.0,559.3 359.7,559.5 360.3,559.7 361.0,559.9 361.7,560.0 362.4,560.2 363.0,560.4 363.7,560.5 364.4,560.6 365.0,560.8 365.7,560.9 366.4,561.0 367.1,561.1 367.7,561.2 368.4,561.3 369.1,561.4 369.7,561.5 370.4,561.6 371.1,561.7 371.8,561.8 372.4,561.9 373.1,562.0 373.8,562.1 374.4,562.1 375.1,562.2 375.8,562.3 376.5,562.3 377.1,562.4 377.8,562.5 378.5,562.5 379.1,562.6 379.8,562.6 380.5,562.7 381.2,562.7 381.8,562.8 382.5,562.8 383.2,562.9 383.8,562.9 384.5,562.9 385.2,563.0 385.9,563.0 386.5,563.1 387.2,563.1 387.9,563.1 388.5,563.2 389.2,563.2 389.9,563.2 390.6,563.3 391.2,563.3 391.9,563.3 392.6,563.3 393.2,563.4 393.9,563.4 394.6,563.4 395.3,563.4 395.9,563.5 396.6,563.5 397.3,563.5 397.9,563.5 398.6,563.6 399.3,563.6 400.0,563.6 400.6,563.6 401.3,563.6 402.0,563.6 402.7,563.7 403.3,563.7 404.0,563.7 404.7,563.7 405.3,563.7 406.0,563.7 406.7,563.7 407.4,563.8 408.0,563.8 408.7,563.8 409.4,563.8 410.0,563.8 410.7,563.8 411.4,563.8 412.1,563.8 412.7,563.9 413.4,563.9 414.1,563.9 414.7,563.9 415.4,563.9 416.1,563.9 416.8,563.9 417.4,563.9 418.1,563.9 418.8,563.9 419.4,563.9 420.1,564.0 420.8,564.0 421.5,564.0 422.1,564.0 422.8,564.0 423.5,564.0 424.1,564.0 424.8,564.0 425.5,564.0 426.2,564.0 426.8,564.0 427.5,564.0 428.2,564.0 428.8,564.0 429.5,564.0 430.2,564.1 430.9,564.1 431.5,564.1 432.2,564.1 432.9,564.1 433.5,564.1 434.2,564.1 434.9,564.1 435.6,564.1 436.2,564.1 436.9,564.1 437.6,564.1 438.2,564.1 438.9,564.1 439.6,564.1 440.3,564.1 440.9,564.1 441.6,564.1 442.3,564.1 442.9,564.1 443.6,564.1 444.3,564.1 445.0,564.1 445.6,564.1 446.3,564.1 447.0,564.1 447.6,564.2 448.3,564.2 449.0,564.2 449.7,564.2 450.3,564.2 451.0,564.2 451.7,564.2 452.4,564.2 453.0,564.2 453.7,564.2 454.4,564.2 455.0,564.2 455.7,564.2 456.4,564.2 457.1,564.2 457.7,564.2 458.4,564.2 459.1,564.2 459.7,564.2 460.4,564.2 461.1,564.2 461.8,564.2 462.4,564.2 463.1,564.2 463.8,564.2 464.4,564.2 465.1,564.2 465.8,564.2 466.5,564.2 467.1,564.2 467.8,564.2 468.5,564.2 469.1,564.2 469.8,564.2 470.5,564.2 471.2,564.2 471.8,564.2 472.5,564.2 473.2,564.2 473.8,564.2 474.5,564.2 475.2,564.2 475.9,564.2 476.5,564.2 477.2,564.2 477.9,564.2 478.5,564.2 479.2,564.2 479.9,564.2 480.6,564.2 481.2,564.2 481.9,564.2 482.6,564.2 483.2,564.2 483.9,564.2 484.6,564.2 485.3,564.2 485.9,564.2 486.6,564.2 487.3,564.2 487.9,564.2 488.6,564.2 489.3,564.2 490.0,564.2 490.6,564.2 491.3,564.2 492.0,564.2 492.6,564.2 493.3,564.2 494.0,564.2 494.7,564.3 495.3,564.3 496.0,564.3 496.7,564.3 497.4,564.3 498.0,564.3 498.7,564.3 499.4,564.3 500.0,564.3 500.7,564.3 501.4,564.3 502.1,564.3 502.7,564.3 503.4,564.3 504.1,564.3 504.7,564.3 505.4,564.3 506.1,564.3 506.8,564.3 507.4,564.3 508.1,564.3 508.8,564.3 509.4,564.3 510.1,564.3 510.8,564.3 511.5,564.3 512.1,564.3 512.8,564.3 513.5,564.3 514.1,564.3 514.8,564.3 515.5,564.3 516.2,564.3 516.8,564.3 517.5,564.3" fill="none" stroke="#b0b4dc" stroke-width="0.8" stroke-linejoin="round"/>
<circle cx="327.15" cy="514.49" r="1.1" fill="#707070"/>
<circle cx="340.16" cy="548.75" r="1.1" fill="#707070"/>
<circle cx="353.90" cy="557.75" r="1.1" fill="#606080"/>
<circle cx="366.99" cy="556.93" r="1.1" fill="#c8d0e0"/>
<circle cx="380.89" cy="551.90" r="1.1" fill="#b0b8c8"/>
<circle cx="408.71" cy="554.71" r="1.1" fill="#707070"/>
<circle cx="462.69" cy="550.03" r="1.1" fill="#906060"/>
<line x1="334.00" y1="438.40" x2="340.00" y2="438.40" stroke="#b0b0b0" stroke-width="0.9"/>
<text x="341.30" y="441.40" font-size="8.6" fill="#111" font-weight="bold" textLength="97.00" lengthAdjust="spacingAndGlyphs">Cut length__Fitting curve</text>
<circle cx="337.2" cy="451.20" r="0.9" fill="#808080"/>
<text x="341.30" y="454.20" font-size="8.6" fill="#111" font-weight="bold" textLength="83.80" lengthAdjust="spacingAndGlyphs">Cut length__Test data</text>
<line x1="334.00" y1="464.40" x2="340.00" y2="464.40" stroke="#dcdcb8" stroke-width="0.9"/>
<text x="341.30" y="467.40" font-size="8.6" fill="#111" font-weight="bold" textLength="105.80" lengthAdjust="spacingAndGlyphs">Hinge length__Fitting curve</text>
<circle cx="337.2" cy="477.30" r="0.9" fill="#7070b0"/>
<text x="341.30" y="480.30" font-size="8.6" fill="#111" font-weight="bold" textLength="92.50" lengthAdjust="spacingAndGlyphs">Hinge length__Test data</text>
<line x1="334.00" y1="490.40" x2="340.00" y2="490.40" stroke="#e0e0d0" stroke-width="0.9"/>
<text x="341.30" y="493.40" font-size="8.6" fill="#111" font-weight="bold" textLength="103.30" lengthAdjust="spacingAndGlyphs">Cut spacing__Fitting curve</text>
<circle cx="337.2" cy="503.40" r="0.9" fill="#b8b8b8"/>
<text x="341.30" y="506.40" font-size="8.6" fill="#111" font-weight="bold" textLength="90.00" lengthAdjust="spacingAndGlyphs">Cut spacing__Test data</text>
</svg>
</body></html>
